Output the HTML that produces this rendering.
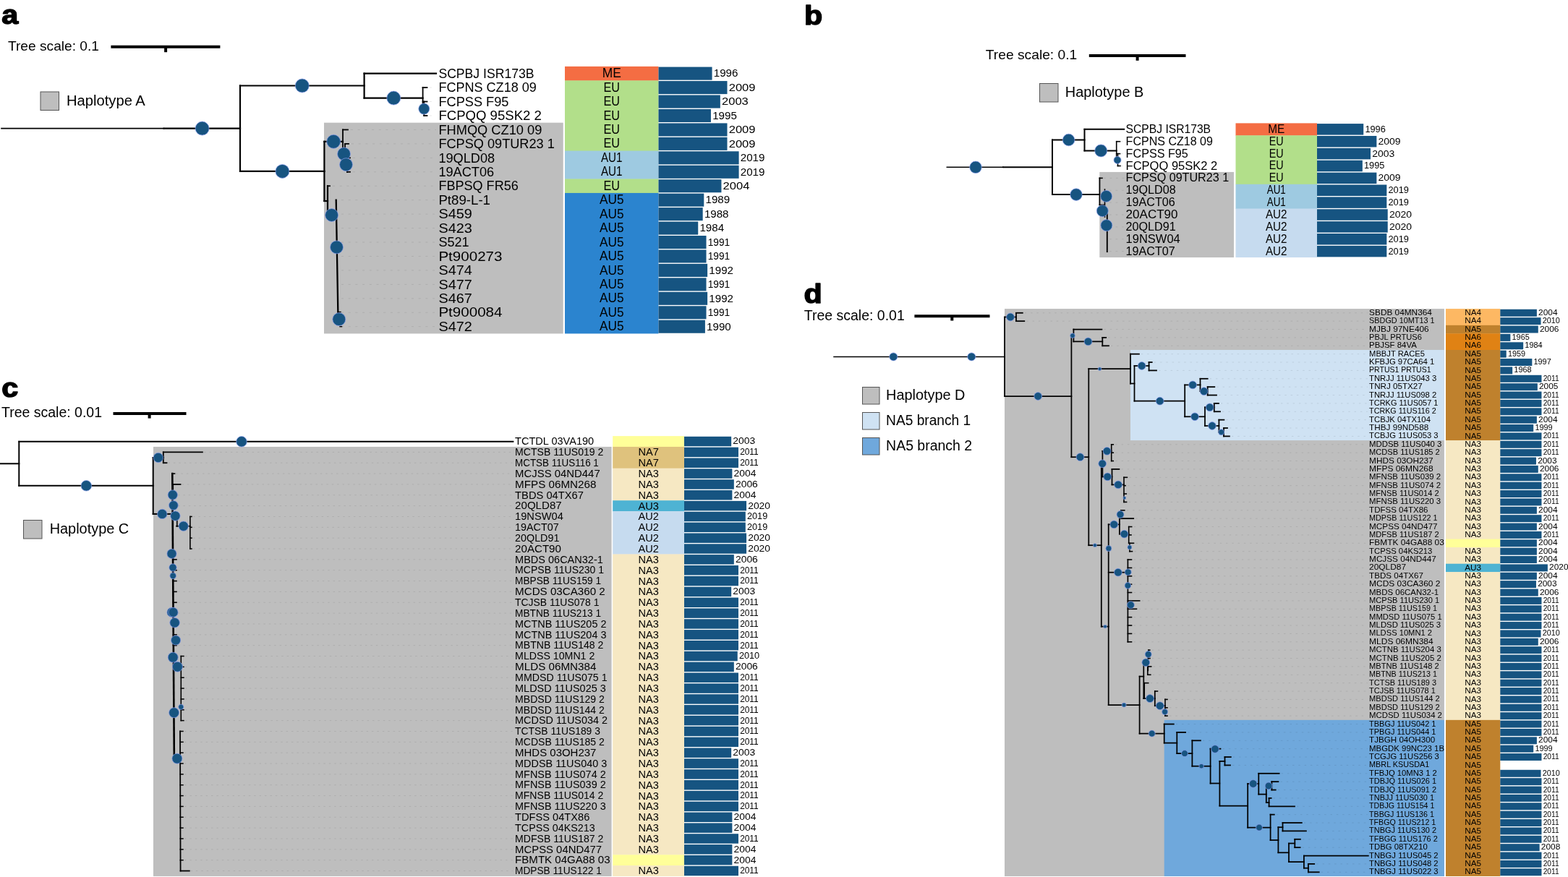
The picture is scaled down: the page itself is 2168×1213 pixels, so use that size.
<!DOCTYPE html>
<html><head><meta charset="utf-8"><title>Phylogenetic trees</title>
<style>
html,body{margin:0;padding:0;background:#fff;}
svg{display:block;}
svg text{font-family:"Liberation Sans", Arial, sans-serif;fill:#000;}
</style></head>
<body>
<svg width="2168" height="1213" viewBox="0 0 2168 1213">
<rect x="0" y="0" width="2168" height="1213" fill="#fff"/>
<rect x="448" y="169.7" width="330.7" height="291.75" fill="#bebebe" />
<rect x="781" y="91.9" width="129.5" height="19.85" fill="#f46d43" />
<rect x="781" y="111.35" width="129.5" height="97.65" fill="#b2df8a" />
<rect x="781" y="208.6" width="129.5" height="39.3" fill="#9ecae1" />
<rect x="781" y="247.5" width="129.5" height="19.85" fill="#b2df8a" />
<rect x="781" y="266.95" width="129.5" height="194.5" fill="#2b84cf" />
<rect x="910.5" y="92.6" width="74.06" height="18.05" fill="#165481" />
<rect x="910.5" y="112.05" width="94.99" height="18.05" fill="#165481" />
<rect x="910.5" y="131.5" width="85.33" height="18.05" fill="#165481" />
<rect x="910.5" y="150.95" width="72.45" height="18.05" fill="#165481" />
<rect x="910.5" y="170.4" width="94.99" height="18.05" fill="#165481" />
<rect x="910.5" y="189.85" width="94.99" height="18.05" fill="#165481" />
<rect x="910.5" y="209.3" width="111.09" height="18.05" fill="#165481" />
<rect x="910.5" y="228.75" width="111.09" height="18.05" fill="#165481" />
<rect x="910.5" y="248.2" width="86.94" height="18.05" fill="#165481" />
<rect x="910.5" y="267.65" width="62.79" height="18.05" fill="#165481" />
<rect x="910.5" y="287.1" width="61.18" height="18.05" fill="#165481" />
<rect x="910.5" y="306.55" width="54.74" height="18.05" fill="#165481" />
<rect x="910.5" y="326" width="66.01" height="18.05" fill="#165481" />
<rect x="910.5" y="345.45" width="66.01" height="18.05" fill="#165481" />
<rect x="910.5" y="364.9" width="67.62" height="18.05" fill="#165481" />
<rect x="910.5" y="384.35" width="66.01" height="18.05" fill="#165481" />
<rect x="910.5" y="403.8" width="67.62" height="18.05" fill="#165481" />
<rect x="910.5" y="423.25" width="66.01" height="18.05" fill="#165481" />
<rect x="910.5" y="442.7" width="64.4" height="18.05" fill="#165481" />
<text x="606.4" y="107.83" font-size="19" textLength="132.16" lengthAdjust="spacingAndGlyphs">SCPBJ ISR173B</text>
<text x="845.75" y="107.22" font-size="18" text-anchor="middle" textLength="26.09" lengthAdjust="spacingAndGlyphs">ME</text>
<text x="986.76" y="106.42" font-size="15.2" textLength="33.67" lengthAdjust="spacingAndGlyphs">1996</text>
<text x="606.4" y="127.28" font-size="19" textLength="135.41" lengthAdjust="spacingAndGlyphs">FCPNS CZ18 09</text>
<text x="845.75" y="126.67" font-size="18" text-anchor="middle" textLength="22.54" lengthAdjust="spacingAndGlyphs">EU</text>
<text x="1007.69" y="125.88" font-size="15.2" textLength="36.8" lengthAdjust="spacingAndGlyphs">2009</text>
<text x="606.4" y="146.72" font-size="19" textLength="97.02" lengthAdjust="spacingAndGlyphs">FCPSS F95</text>
<text x="845.75" y="146.12" font-size="18" text-anchor="middle" textLength="22.54" lengthAdjust="spacingAndGlyphs">EU</text>
<text x="998.03" y="145.33" font-size="15.2" textLength="36.8" lengthAdjust="spacingAndGlyphs">2003</text>
<text x="606.4" y="166.18" font-size="19" textLength="142.5" lengthAdjust="spacingAndGlyphs">FCPQQ 95SK2 2</text>
<text x="845.75" y="165.58" font-size="18" text-anchor="middle" textLength="22.54" lengthAdjust="spacingAndGlyphs">EU</text>
<text x="985.15" y="164.78" font-size="15.2" textLength="33.67" lengthAdjust="spacingAndGlyphs">1995</text>
<text x="606.4" y="185.62" font-size="19" textLength="142.98" lengthAdjust="spacingAndGlyphs">FHMQQ CZ10 09</text>
<text x="845.75" y="185.03" font-size="18" text-anchor="middle" textLength="22.54" lengthAdjust="spacingAndGlyphs">EU</text>
<text x="1007.69" y="184.23" font-size="15.2" textLength="36.8" lengthAdjust="spacingAndGlyphs">2009</text>
<text x="606.4" y="205.07" font-size="19" textLength="160.42" lengthAdjust="spacingAndGlyphs">FCPSQ 09TUR23 1</text>
<text x="845.75" y="204.47" font-size="18" text-anchor="middle" textLength="22.54" lengthAdjust="spacingAndGlyphs">EU</text>
<text x="1007.69" y="203.68" font-size="15.2" textLength="36.8" lengthAdjust="spacingAndGlyphs">2009</text>
<text x="606.4" y="224.52" font-size="19" textLength="77.69" lengthAdjust="spacingAndGlyphs">19QLD08</text>
<text x="845.75" y="223.92" font-size="18" text-anchor="middle" textLength="29.57" lengthAdjust="spacingAndGlyphs">AU1</text>
<text x="1023.79" y="223.12" font-size="15.2" textLength="33.67" lengthAdjust="spacingAndGlyphs">2019</text>
<text x="606.4" y="243.97" font-size="19" textLength="76.72" lengthAdjust="spacingAndGlyphs">19ACT06</text>
<text x="845.75" y="243.38" font-size="18" text-anchor="middle" textLength="29.57" lengthAdjust="spacingAndGlyphs">AU1</text>
<text x="1023.79" y="242.58" font-size="15.2" textLength="33.67" lengthAdjust="spacingAndGlyphs">2019</text>
<text x="606.4" y="263.43" font-size="19" textLength="110.38" lengthAdjust="spacingAndGlyphs">FBPSQ FR56</text>
<text x="845.75" y="262.83" font-size="18" text-anchor="middle" textLength="22.54" lengthAdjust="spacingAndGlyphs">EU</text>
<text x="999.64" y="262.03" font-size="15.2" textLength="36.8" lengthAdjust="spacingAndGlyphs">2004</text>
<text x="606.4" y="282.88" font-size="19" textLength="71.58" lengthAdjust="spacingAndGlyphs">Pt89-L-1</text>
<text x="845.75" y="282.28" font-size="18" text-anchor="middle" textLength="33.54" lengthAdjust="spacingAndGlyphs">AU5</text>
<text x="975.49" y="281.48" font-size="15.2" textLength="33.67" lengthAdjust="spacingAndGlyphs">1989</text>
<text x="606.4" y="302.32" font-size="19" textLength="46.38" lengthAdjust="spacingAndGlyphs">S459</text>
<text x="845.75" y="301.73" font-size="18" text-anchor="middle" textLength="33.54" lengthAdjust="spacingAndGlyphs">AU5</text>
<text x="973.88" y="300.93" font-size="15.2" textLength="33.67" lengthAdjust="spacingAndGlyphs">1988</text>
<text x="606.4" y="321.77" font-size="19" textLength="46.38" lengthAdjust="spacingAndGlyphs">S423</text>
<text x="845.75" y="321.18" font-size="18" text-anchor="middle" textLength="33.54" lengthAdjust="spacingAndGlyphs">AU5</text>
<text x="967.44" y="320.38" font-size="15.2" textLength="33.67" lengthAdjust="spacingAndGlyphs">1984</text>
<text x="606.4" y="341.22" font-size="19" textLength="42.18" lengthAdjust="spacingAndGlyphs">S521</text>
<text x="845.75" y="340.62" font-size="18" text-anchor="middle" textLength="33.54" lengthAdjust="spacingAndGlyphs">AU5</text>
<text x="978.71" y="339.82" font-size="15.2" textLength="30.54" lengthAdjust="spacingAndGlyphs">1991</text>
<text x="606.4" y="360.68" font-size="19" textLength="88.1" lengthAdjust="spacingAndGlyphs">Pt900273</text>
<text x="845.75" y="360.08" font-size="18" text-anchor="middle" textLength="33.54" lengthAdjust="spacingAndGlyphs">AU5</text>
<text x="978.71" y="359.28" font-size="15.2" textLength="30.54" lengthAdjust="spacingAndGlyphs">1991</text>
<text x="606.4" y="380.12" font-size="19" textLength="46.38" lengthAdjust="spacingAndGlyphs">S474</text>
<text x="845.75" y="379.52" font-size="18" text-anchor="middle" textLength="33.54" lengthAdjust="spacingAndGlyphs">AU5</text>
<text x="980.32" y="378.72" font-size="15.2" textLength="33.67" lengthAdjust="spacingAndGlyphs">1992</text>
<text x="606.4" y="399.57" font-size="19" textLength="46.38" lengthAdjust="spacingAndGlyphs">S477</text>
<text x="845.75" y="398.98" font-size="18" text-anchor="middle" textLength="33.54" lengthAdjust="spacingAndGlyphs">AU5</text>
<text x="978.71" y="398.18" font-size="15.2" textLength="30.54" lengthAdjust="spacingAndGlyphs">1991</text>
<text x="606.4" y="419.03" font-size="19" textLength="46.38" lengthAdjust="spacingAndGlyphs">S467</text>
<text x="845.75" y="418.43" font-size="18" text-anchor="middle" textLength="33.54" lengthAdjust="spacingAndGlyphs">AU5</text>
<text x="980.32" y="417.63" font-size="15.2" textLength="33.67" lengthAdjust="spacingAndGlyphs">1992</text>
<text x="606.4" y="438.47" font-size="19" textLength="88.1" lengthAdjust="spacingAndGlyphs">Pt900084</text>
<text x="845.75" y="437.88" font-size="18" text-anchor="middle" textLength="33.54" lengthAdjust="spacingAndGlyphs">AU5</text>
<text x="978.71" y="437.07" font-size="15.2" textLength="30.54" lengthAdjust="spacingAndGlyphs">1991</text>
<text x="606.4" y="457.93" font-size="19" textLength="46.38" lengthAdjust="spacingAndGlyphs">S472</text>
<text x="845.75" y="457.33" font-size="18" text-anchor="middle" textLength="33.54" lengthAdjust="spacingAndGlyphs">AU5</text>
<text x="977.1" y="456.53" font-size="15.2" textLength="33.67" lengthAdjust="spacingAndGlyphs">1990</text>
<g stroke="#000" stroke-opacity="0.085" stroke-width="1" stroke-dasharray="3,6.7" fill="none">
<line x1="594" y1="121.08" x2="603" y2="121.08"/>
<line x1="594" y1="140.53" x2="603" y2="140.53"/>
<line x1="594" y1="159.98" x2="603" y2="159.98"/>
<line x1="485" y1="179.43" x2="603" y2="179.43"/>
<line x1="486" y1="198.88" x2="603" y2="198.88"/>
<line x1="488" y1="218.32" x2="603" y2="218.32"/>
<line x1="488" y1="237.78" x2="603" y2="237.78"/>
<line x1="460" y1="257.23" x2="603" y2="257.23"/>
<line x1="472" y1="276.68" x2="603" y2="276.68"/>
<line x1="472" y1="296.12" x2="603" y2="296.12"/>
<line x1="472" y1="315.57" x2="603" y2="315.57"/>
<line x1="472" y1="335.02" x2="603" y2="335.02"/>
<line x1="472" y1="354.48" x2="603" y2="354.48"/>
<line x1="472" y1="373.92" x2="603" y2="373.92"/>
<line x1="472" y1="393.38" x2="603" y2="393.38"/>
<line x1="472" y1="412.83" x2="603" y2="412.83"/>
<line x1="472" y1="432.27" x2="603" y2="432.27"/>
<line x1="472" y1="451.73" x2="603" y2="451.73"/>
</g>
<g stroke="#000000" stroke-linecap="square" fill="none">
<line x1="2" y1="177.6" x2="226.6" y2="177.6" stroke-width="1.6"/>
<line x1="226.6" y1="177.6" x2="332" y2="177.6" stroke-width="2.2"/>
<line x1="332" y1="118.5" x2="332" y2="236.9" stroke-width="2.2"/>
<line x1="332" y1="118.5" x2="503.6" y2="118.5" stroke-width="2.2"/>
<line x1="503.6" y1="101.62" x2="503.6" y2="135.6" stroke-width="2.2"/>
<line x1="503.6" y1="101.62" x2="603" y2="101.62" stroke-width="2.2"/>
<line x1="503.6" y1="135.6" x2="584.6" y2="135.6" stroke-width="2.2"/>
<line x1="584.6" y1="121.08" x2="584.6" y2="150.3" stroke-width="1.8"/>
<line x1="584.6" y1="121.08" x2="590.5" y2="121.08" stroke-width="1.8"/>
<line x1="586.3" y1="140.53" x2="586.3" y2="159.98" stroke-width="1.8"/>
<line x1="584.6" y1="140.53" x2="590.5" y2="140.53" stroke-width="1.8"/>
<line x1="586.3" y1="159.98" x2="590.5" y2="159.98" stroke-width="1.8"/>
<line x1="332" y1="236.9" x2="448.5" y2="236.9" stroke-width="2.2"/>
<line x1="448.4" y1="195.8" x2="448.4" y2="278" stroke-width="2.2"/>
<line x1="448.4" y1="195.8" x2="474" y2="195.8" stroke-width="2.2"/>
<line x1="474" y1="179.43" x2="474" y2="212.9" stroke-width="1.8"/>
<line x1="474" y1="179.43" x2="481" y2="179.43" stroke-width="1.8"/>
<line x1="477" y1="198.88" x2="477" y2="228" stroke-width="1.8"/>
<line x1="477" y1="198.88" x2="482" y2="198.88" stroke-width="1.8"/>
<line x1="480" y1="218.32" x2="480" y2="237.78" stroke-width="1.8"/>
<line x1="480" y1="218.32" x2="484" y2="218.32" stroke-width="1.8"/>
<line x1="480" y1="237.78" x2="484" y2="237.78" stroke-width="1.8"/>
<line x1="448.4" y1="278" x2="453" y2="278" stroke-width="2.2"/>
<line x1="453" y1="257.23" x2="453" y2="297.5" stroke-width="2.2"/>
<line x1="453" y1="257.23" x2="456" y2="257.23" stroke-width="1.8"/>
<line x1="453" y1="297.5" x2="465" y2="297.5" stroke-width="2.2"/>
<line x1="464.7" y1="276.68" x2="467.5" y2="441" stroke-width="2.3"/>
<line x1="467.5" y1="431.5" x2="471" y2="431.5" stroke-width="1.4"/>
<line x1="470" y1="451.73" x2="472.5" y2="451.73" stroke-width="1.4"/>
</g>
<g fill="#175480" stroke="#8d9ef0" stroke-width="0.8" stroke-opacity="0.85">
<circle cx="279.6" cy="177.6" r="9.5"/>
<circle cx="417.8" cy="118.5" r="9.5"/>
<circle cx="544.3" cy="135.6" r="9.5"/>
<circle cx="586.3" cy="150.6" r="7.5"/>
<circle cx="390.4" cy="236.9" r="9.5"/>
<circle cx="461.2" cy="195.8" r="9.5"/>
<circle cx="475.5" cy="212.9" r="9"/>
<circle cx="478.5" cy="227.7" r="9"/>
<circle cx="458.6" cy="297.5" r="9"/>
<circle cx="465.5" cy="341.9" r="9"/>
<circle cx="468.8" cy="441.6" r="9"/>
</g>
<text transform="translate(2.2,33.4) scale(1.1,1)" x="0" y="0" font-size="37.5" font-weight="bold" fill="#000" stroke="#000" stroke-width="1.5" stroke-linejoin="round">a</text>
<text x="11" y="69.7" font-size="19" textLength="126" lengthAdjust="spacingAndGlyphs">Tree scale: 0.1</text>
<line x1="153.4" y1="64.8" x2="304.4" y2="64.8" stroke="#000" stroke-width="4"/>
<line x1="229.1" y1="64.8" x2="229.1" y2="72.2" stroke="#000" stroke-width="4"/>
<rect x="56" y="127" width="25.5" height="25.5" fill="#bebebe" stroke="#555" stroke-width="1"/>
<text x="92" y="145.96" font-size="19.5" textLength="108.8" lengthAdjust="spacingAndGlyphs">Haplotype A</text>
<rect x="1520.3" y="237.92" width="185.7" height="118.16" fill="#bebebe" />
<rect x="1708.5" y="170.4" width="112.5" height="17.28" fill="#f46d43" />
<rect x="1708.5" y="187.28" width="112.5" height="67.92" fill="#b2df8a" />
<rect x="1708.5" y="254.8" width="112.5" height="34.16" fill="#9ecae1" />
<rect x="1708.5" y="288.56" width="112.5" height="67.52" fill="#c6dbef" />
<rect x="1821" y="171.1" width="64.22" height="15.48" fill="#165481" />
<rect x="1821" y="187.98" width="82.36" height="15.48" fill="#165481" />
<rect x="1821" y="204.86" width="73.99" height="15.48" fill="#165481" />
<rect x="1821" y="221.74" width="62.82" height="15.48" fill="#165481" />
<rect x="1821" y="238.62" width="82.36" height="15.48" fill="#165481" />
<rect x="1821" y="255.5" width="96.32" height="15.48" fill="#165481" />
<rect x="1821" y="272.38" width="96.32" height="15.48" fill="#165481" />
<rect x="1821" y="289.26" width="97.72" height="15.48" fill="#165481" />
<rect x="1821" y="306.14" width="97.72" height="15.48" fill="#165481" />
<rect x="1821" y="323.02" width="96.32" height="15.48" fill="#165481" />
<rect x="1821" y="339.9" width="96.32" height="15.48" fill="#165481" />
<text x="1556.6" y="183.94" font-size="16.4" textLength="117.48" lengthAdjust="spacingAndGlyphs">SCPBJ ISR173B</text>
<text x="1764.75" y="183.74" font-size="15.7" text-anchor="middle" textLength="23.02" lengthAdjust="spacingAndGlyphs">ME</text>
<text x="1887.42" y="182.74" font-size="12.9" textLength="28.37" lengthAdjust="spacingAndGlyphs">1996</text>
<text x="1556.6" y="200.82" font-size="16.4" textLength="120.37" lengthAdjust="spacingAndGlyphs">FCPNS CZ18 09</text>
<text x="1764.75" y="200.62" font-size="15.7" text-anchor="middle" textLength="19.89" lengthAdjust="spacingAndGlyphs">EU</text>
<text x="1905.56" y="199.62" font-size="12.9" textLength="31" lengthAdjust="spacingAndGlyphs">2009</text>
<text x="1556.6" y="217.7" font-size="16.4" textLength="86.24" lengthAdjust="spacingAndGlyphs">FCPSS F95</text>
<text x="1764.75" y="217.5" font-size="15.7" text-anchor="middle" textLength="19.89" lengthAdjust="spacingAndGlyphs">EU</text>
<text x="1897.19" y="216.5" font-size="12.9" textLength="31" lengthAdjust="spacingAndGlyphs">2003</text>
<text x="1556.6" y="234.58" font-size="16.4" textLength="126.66" lengthAdjust="spacingAndGlyphs">FCPQQ 95SK2 2</text>
<text x="1764.75" y="234.38" font-size="15.7" text-anchor="middle" textLength="19.89" lengthAdjust="spacingAndGlyphs">EU</text>
<text x="1886.02" y="233.38" font-size="12.9" textLength="28.37" lengthAdjust="spacingAndGlyphs">1995</text>
<text x="1556.6" y="251.46" font-size="16.4" textLength="142.6" lengthAdjust="spacingAndGlyphs">FCPSQ 09TUR23 1</text>
<text x="1764.75" y="251.26" font-size="15.7" text-anchor="middle" textLength="19.89" lengthAdjust="spacingAndGlyphs">EU</text>
<text x="1905.56" y="250.26" font-size="12.9" textLength="31" lengthAdjust="spacingAndGlyphs">2009</text>
<text x="1556.6" y="268.34" font-size="16.4" textLength="69.06" lengthAdjust="spacingAndGlyphs">19QLD08</text>
<text x="1764.75" y="268.14" font-size="15.7" text-anchor="middle" textLength="26.09" lengthAdjust="spacingAndGlyphs">AU1</text>
<text x="1919.52" y="267.14" font-size="12.9" textLength="28.37" lengthAdjust="spacingAndGlyphs">2019</text>
<text x="1556.6" y="285.22" font-size="16.4" textLength="68.2" lengthAdjust="spacingAndGlyphs">19ACT06</text>
<text x="1764.75" y="285.02" font-size="15.7" text-anchor="middle" textLength="26.09" lengthAdjust="spacingAndGlyphs">AU1</text>
<text x="1919.52" y="284.02" font-size="12.9" textLength="28.37" lengthAdjust="spacingAndGlyphs">2019</text>
<text x="1556.6" y="302.1" font-size="16.4" textLength="71.93" lengthAdjust="spacingAndGlyphs">20ACT90</text>
<text x="1764.75" y="301.9" font-size="15.7" text-anchor="middle" textLength="29.59" lengthAdjust="spacingAndGlyphs">AU2</text>
<text x="1920.92" y="300.9" font-size="12.9" textLength="31" lengthAdjust="spacingAndGlyphs">2020</text>
<text x="1556.6" y="318.98" font-size="16.4" textLength="69.06" lengthAdjust="spacingAndGlyphs">20QLD91</text>
<text x="1764.75" y="318.78" font-size="15.7" text-anchor="middle" textLength="29.59" lengthAdjust="spacingAndGlyphs">AU2</text>
<text x="1920.92" y="317.78" font-size="12.9" textLength="31" lengthAdjust="spacingAndGlyphs">2020</text>
<text x="1556.6" y="335.86" font-size="16.4" textLength="75.15" lengthAdjust="spacingAndGlyphs">19NSW04</text>
<text x="1764.75" y="335.66" font-size="15.7" text-anchor="middle" textLength="29.59" lengthAdjust="spacingAndGlyphs">AU2</text>
<text x="1919.52" y="334.66" font-size="12.9" textLength="28.37" lengthAdjust="spacingAndGlyphs">2019</text>
<text x="1556.6" y="352.74" font-size="16.4" textLength="68.2" lengthAdjust="spacingAndGlyphs">19ACT07</text>
<text x="1764.75" y="352.54" font-size="15.7" text-anchor="middle" textLength="29.59" lengthAdjust="spacingAndGlyphs">AU2</text>
<text x="1919.52" y="351.54" font-size="12.9" textLength="28.37" lengthAdjust="spacingAndGlyphs">2019</text>
<g stroke="#000" stroke-opacity="0.085" stroke-width="1" stroke-dasharray="2.8,5.7" fill="none">
<line x1="1550" y1="195.72" x2="1555" y2="195.72"/>
<line x1="1550" y1="212.6" x2="1555" y2="212.6"/>
<line x1="1550" y1="229.48" x2="1555" y2="229.48"/>
<line x1="1526" y1="246.36" x2="1555" y2="246.36"/>
<line x1="1534" y1="263.24" x2="1555" y2="263.24"/>
<line x1="1534" y1="280.12" x2="1555" y2="280.12"/>
<line x1="1534" y1="297" x2="1555" y2="297"/>
<line x1="1534" y1="313.88" x2="1555" y2="313.88"/>
<line x1="1534" y1="330.76" x2="1555" y2="330.76"/>
<line x1="1534" y1="347.64" x2="1555" y2="347.64"/>
</g>
<g stroke="#000000" stroke-linecap="square" fill="none">
<line x1="1309.3" y1="231.3" x2="1387" y2="231.3" stroke-width="1.5"/>
<line x1="1387" y1="231.3" x2="1455" y2="231.3" stroke-width="2"/>
<line x1="1455" y1="193.5" x2="1455" y2="269.1" stroke-width="2"/>
<line x1="1455" y1="193.5" x2="1499.5" y2="193.5" stroke-width="2"/>
<line x1="1499.5" y1="178.84" x2="1499.5" y2="208.4" stroke-width="2"/>
<line x1="1499.5" y1="178.84" x2="1554.2" y2="178.84" stroke-width="2"/>
<line x1="1499.5" y1="208.4" x2="1543.7" y2="208.4" stroke-width="2"/>
<line x1="1543.7" y1="195.72" x2="1543.7" y2="221.4" stroke-width="1.6"/>
<line x1="1543.7" y1="195.72" x2="1548.5" y2="195.72" stroke-width="1.6"/>
<line x1="1545.5" y1="212.6" x2="1545.5" y2="229.48" stroke-width="1.6"/>
<line x1="1543.7" y1="212.6" x2="1548.5" y2="212.6" stroke-width="1.6"/>
<line x1="1545.5" y1="229.48" x2="1549" y2="229.48" stroke-width="1.6"/>
<line x1="1455" y1="269.1" x2="1520.3" y2="269.1" stroke-width="2"/>
<line x1="1520.4" y1="246.36" x2="1520.4" y2="283.4" stroke-width="1.8"/>
<line x1="1520.4" y1="246.36" x2="1524" y2="246.36" stroke-width="1.6"/>
<line x1="1520.4" y1="283.4" x2="1527" y2="283.4" stroke-width="1.6"/>
<line x1="1527.5" y1="262" x2="1527.5" y2="300" stroke-width="1.6"/>
<line x1="1530.8" y1="296" x2="1530.8" y2="348.14" stroke-width="1.9"/>
</g>
<g fill="#175480" stroke="#8d9ef0" stroke-width="0.8" stroke-opacity="0.85">
<circle cx="1349" cy="231.3" r="8.3"/>
<circle cx="1477.6" cy="193.5" r="8.3"/>
<circle cx="1522.2" cy="208.4" r="8.5"/>
<circle cx="1545" cy="221.4" r="5"/>
<circle cx="1488" cy="269.1" r="8.3"/>
<circle cx="1529.6" cy="271.4" r="8"/>
<circle cx="1524.3" cy="291.7" r="8"/>
<circle cx="1529.9" cy="311.7" r="8"/>
</g>
<text transform="translate(1112,33.6) scale(1.1,1)" x="0" y="0" font-size="37.5" font-weight="bold" fill="#000" stroke="#000" stroke-width="1.5" stroke-linejoin="round">b</text>
<text x="1362.8" y="82.2" font-size="19" textLength="126.5" lengthAdjust="spacingAndGlyphs">Tree scale: 0.1</text>
<line x1="1505.8" y1="77" x2="1639.5" y2="77" stroke="#000" stroke-width="4"/>
<line x1="1572.6" y1="77" x2="1572.6" y2="83.8" stroke="#000" stroke-width="4"/>
<rect x="1437.5" y="115.5" width="25.5" height="25.5" fill="#bebebe" stroke="#555" stroke-width="1"/>
<text x="1472.8" y="134.46" font-size="19.5" textLength="108.5" lengthAdjust="spacingAndGlyphs">Haplotype B</text>
<rect x="212" y="617.95" width="633.6" height="594" fill="#bebebe" />
<rect x="847.2" y="603.1" width="98.8" height="15.25" fill="#ffff99" />
<rect x="847.2" y="617.95" width="98.8" height="30.1" fill="#dfc27d" />
<rect x="847.2" y="647.65" width="98.8" height="44.95" fill="#f6e8c3" />
<rect x="847.2" y="692.2" width="98.8" height="15.25" fill="#4eb3d3" />
<rect x="847.2" y="707.05" width="98.8" height="59.8" fill="#c6dbef" />
<rect x="847.2" y="766.45" width="98.8" height="416.2" fill="#f6e8c3" />
<rect x="847.2" y="1182.25" width="98.8" height="15.25" fill="#ffff99" />
<rect x="847.2" y="1197.1" width="98.8" height="14.85" fill="#f6e8c3" />
<rect x="946" y="603.8" width="65.14" height="13.45" fill="#165481" />
<rect x="946" y="618.65" width="74.97" height="13.45" fill="#165481" />
<rect x="946" y="633.5" width="74.97" height="13.45" fill="#165481" />
<rect x="946" y="648.35" width="66.37" height="13.45" fill="#165481" />
<rect x="946" y="663.2" width="68.82" height="13.45" fill="#165481" />
<rect x="946" y="678.05" width="66.37" height="13.45" fill="#165481" />
<rect x="946" y="692.9" width="86.03" height="13.45" fill="#165481" />
<rect x="946" y="707.75" width="84.8" height="13.45" fill="#165481" />
<rect x="946" y="722.6" width="84.8" height="13.45" fill="#165481" />
<rect x="946" y="737.45" width="86.03" height="13.45" fill="#165481" />
<rect x="946" y="752.3" width="86.03" height="13.45" fill="#165481" />
<rect x="946" y="767.15" width="68.82" height="13.45" fill="#165481" />
<rect x="946" y="782" width="74.97" height="13.45" fill="#165481" />
<rect x="946" y="796.85" width="74.97" height="13.45" fill="#165481" />
<rect x="946" y="811.7" width="65.14" height="13.45" fill="#165481" />
<rect x="946" y="826.55" width="74.97" height="13.45" fill="#165481" />
<rect x="946" y="841.4" width="74.97" height="13.45" fill="#165481" />
<rect x="946" y="856.25" width="74.97" height="13.45" fill="#165481" />
<rect x="946" y="871.1" width="74.97" height="13.45" fill="#165481" />
<rect x="946" y="885.95" width="74.97" height="13.45" fill="#165481" />
<rect x="946" y="900.8" width="73.74" height="13.45" fill="#165481" />
<rect x="946" y="915.65" width="68.82" height="13.45" fill="#165481" />
<rect x="946" y="930.5" width="74.97" height="13.45" fill="#165481" />
<rect x="946" y="945.35" width="74.97" height="13.45" fill="#165481" />
<rect x="946" y="960.2" width="74.97" height="13.45" fill="#165481" />
<rect x="946" y="975.05" width="74.97" height="13.45" fill="#165481" />
<rect x="946" y="989.9" width="74.97" height="13.45" fill="#165481" />
<rect x="946" y="1004.75" width="74.97" height="13.45" fill="#165481" />
<rect x="946" y="1019.6" width="74.97" height="13.45" fill="#165481" />
<rect x="946" y="1034.45" width="65.14" height="13.45" fill="#165481" />
<rect x="946" y="1049.3" width="74.97" height="13.45" fill="#165481" />
<rect x="946" y="1064.15" width="74.97" height="13.45" fill="#165481" />
<rect x="946" y="1079" width="74.97" height="13.45" fill="#165481" />
<rect x="946" y="1093.85" width="74.97" height="13.45" fill="#165481" />
<rect x="946" y="1108.7" width="74.97" height="13.45" fill="#165481" />
<rect x="946" y="1123.55" width="66.37" height="13.45" fill="#165481" />
<rect x="946" y="1138.4" width="66.37" height="13.45" fill="#165481" />
<rect x="946" y="1153.25" width="74.97" height="13.45" fill="#165481" />
<rect x="946" y="1168.1" width="66.37" height="13.45" fill="#165481" />
<rect x="946" y="1182.95" width="66.37" height="13.45" fill="#165481" />
<rect x="946" y="1197.8" width="74.97" height="13.45" fill="#165481" />
<text x="712.1" y="615.27" font-size="14.2" textLength="109.06" lengthAdjust="spacingAndGlyphs">TCTDL 03VA190</text>
<text x="1013.34" y="614.42" font-size="12.9" textLength="30.8" lengthAdjust="spacingAndGlyphs">2003</text>
<text x="712.1" y="630.12" font-size="14.2" textLength="122.29" lengthAdjust="spacingAndGlyphs">MCTSB 11US019 2</text>
<text x="896.6" y="630.33" font-size="14.4" text-anchor="middle" textLength="28.41" lengthAdjust="spacingAndGlyphs">NA7</text>
<text x="1023.17" y="629.27" font-size="12.9" textLength="25.56" lengthAdjust="spacingAndGlyphs">2011</text>
<text x="712.1" y="644.98" font-size="14.2" textLength="115.66" lengthAdjust="spacingAndGlyphs">MCTSB 11US116 1</text>
<text x="896.6" y="645.18" font-size="14.4" text-anchor="middle" textLength="28.41" lengthAdjust="spacingAndGlyphs">NA7</text>
<text x="1023.17" y="644.12" font-size="12.9" textLength="25.56" lengthAdjust="spacingAndGlyphs">2011</text>
<text x="712.1" y="659.83" font-size="14.2" textLength="117.59" lengthAdjust="spacingAndGlyphs">MCJSS 04ND447</text>
<text x="896.6" y="660.03" font-size="14.4" text-anchor="middle" textLength="28.41" lengthAdjust="spacingAndGlyphs">NA3</text>
<text x="1014.57" y="658.98" font-size="12.9" textLength="30.8" lengthAdjust="spacingAndGlyphs">2004</text>
<text x="712.1" y="674.68" font-size="14.2" textLength="112.27" lengthAdjust="spacingAndGlyphs">MFPS 06MN268</text>
<text x="896.6" y="674.88" font-size="14.4" text-anchor="middle" textLength="28.41" lengthAdjust="spacingAndGlyphs">NA3</text>
<text x="1017.02" y="673.83" font-size="12.9" textLength="30.8" lengthAdjust="spacingAndGlyphs">2006</text>
<text x="712.1" y="689.52" font-size="14.2" textLength="94.9" lengthAdjust="spacingAndGlyphs">TBDS 04TX67</text>
<text x="896.6" y="689.73" font-size="14.4" text-anchor="middle" textLength="28.41" lengthAdjust="spacingAndGlyphs">NA3</text>
<text x="1014.57" y="688.67" font-size="12.9" textLength="30.8" lengthAdjust="spacingAndGlyphs">2004</text>
<text x="712.1" y="704.38" font-size="14.2" textLength="64.6" lengthAdjust="spacingAndGlyphs">20QLD87</text>
<text x="896.6" y="704.58" font-size="14.4" text-anchor="middle" textLength="28.41" lengthAdjust="spacingAndGlyphs">AU3</text>
<text x="1034.23" y="703.52" font-size="12.9" textLength="30.8" lengthAdjust="spacingAndGlyphs">2020</text>
<text x="712.1" y="719.23" font-size="14.2" textLength="66.7" lengthAdjust="spacingAndGlyphs">19NSW04</text>
<text x="896.6" y="719.43" font-size="14.4" text-anchor="middle" textLength="28.41" lengthAdjust="spacingAndGlyphs">AU2</text>
<text x="1033" y="718.38" font-size="12.9" textLength="28.18" lengthAdjust="spacingAndGlyphs">2019</text>
<text x="712.1" y="734.08" font-size="14.2" textLength="60.53" lengthAdjust="spacingAndGlyphs">19ACT07</text>
<text x="896.6" y="734.28" font-size="14.4" text-anchor="middle" textLength="28.41" lengthAdjust="spacingAndGlyphs">AU2</text>
<text x="1033" y="733.23" font-size="12.9" textLength="28.18" lengthAdjust="spacingAndGlyphs">2019</text>
<text x="712.1" y="748.92" font-size="14.2" textLength="61.29" lengthAdjust="spacingAndGlyphs">20QLD91</text>
<text x="896.6" y="749.12" font-size="14.4" text-anchor="middle" textLength="28.41" lengthAdjust="spacingAndGlyphs">AU2</text>
<text x="1034.23" y="748.07" font-size="12.9" textLength="30.8" lengthAdjust="spacingAndGlyphs">2020</text>
<text x="712.1" y="763.77" font-size="14.2" textLength="63.84" lengthAdjust="spacingAndGlyphs">20ACT90</text>
<text x="896.6" y="763.98" font-size="14.4" text-anchor="middle" textLength="28.41" lengthAdjust="spacingAndGlyphs">AU2</text>
<text x="1034.23" y="762.92" font-size="12.9" textLength="30.8" lengthAdjust="spacingAndGlyphs">2020</text>
<text x="712.1" y="778.62" font-size="14.2" textLength="121.69" lengthAdjust="spacingAndGlyphs">MBDS 06CAN32-1</text>
<text x="896.6" y="778.83" font-size="14.4" text-anchor="middle" textLength="28.41" lengthAdjust="spacingAndGlyphs">NA3</text>
<text x="1017.02" y="777.77" font-size="12.9" textLength="30.8" lengthAdjust="spacingAndGlyphs">2006</text>
<text x="712.1" y="793.48" font-size="14.2" textLength="123.05" lengthAdjust="spacingAndGlyphs">MCPSB 11US230 1</text>
<text x="896.6" y="793.68" font-size="14.4" text-anchor="middle" textLength="28.41" lengthAdjust="spacingAndGlyphs">NA3</text>
<text x="1023.17" y="792.62" font-size="12.9" textLength="25.56" lengthAdjust="spacingAndGlyphs">2011</text>
<text x="712.1" y="808.33" font-size="14.2" textLength="118.99" lengthAdjust="spacingAndGlyphs">MBPSB 11US159 1</text>
<text x="896.6" y="808.53" font-size="14.4" text-anchor="middle" textLength="28.41" lengthAdjust="spacingAndGlyphs">NA3</text>
<text x="1023.17" y="807.48" font-size="12.9" textLength="25.56" lengthAdjust="spacingAndGlyphs">2011</text>
<text x="712.1" y="823.17" font-size="14.2" textLength="124.7" lengthAdjust="spacingAndGlyphs">MCDS 03CA360 2</text>
<text x="896.6" y="823.38" font-size="14.4" text-anchor="middle" textLength="28.41" lengthAdjust="spacingAndGlyphs">NA3</text>
<text x="1013.34" y="822.32" font-size="12.9" textLength="30.8" lengthAdjust="spacingAndGlyphs">2003</text>
<text x="712.1" y="838.02" font-size="14.2" textLength="116.31" lengthAdjust="spacingAndGlyphs">TCJSB 11US078 1</text>
<text x="896.6" y="838.23" font-size="14.4" text-anchor="middle" textLength="28.41" lengthAdjust="spacingAndGlyphs">NA3</text>
<text x="1023.17" y="837.17" font-size="12.9" textLength="25.56" lengthAdjust="spacingAndGlyphs">2011</text>
<text x="712.1" y="852.88" font-size="14.2" textLength="118.97" lengthAdjust="spacingAndGlyphs">MBTNB 11US213 1</text>
<text x="896.6" y="853.08" font-size="14.4" text-anchor="middle" textLength="28.41" lengthAdjust="spacingAndGlyphs">NA3</text>
<text x="1023.17" y="852.02" font-size="12.9" textLength="25.56" lengthAdjust="spacingAndGlyphs">2011</text>
<text x="712.1" y="867.73" font-size="14.2" textLength="126.35" lengthAdjust="spacingAndGlyphs">MCTNB 11US205 2</text>
<text x="896.6" y="867.93" font-size="14.4" text-anchor="middle" textLength="28.41" lengthAdjust="spacingAndGlyphs">NA3</text>
<text x="1023.17" y="866.88" font-size="12.9" textLength="25.56" lengthAdjust="spacingAndGlyphs">2011</text>
<text x="712.1" y="882.58" font-size="14.2" textLength="126.35" lengthAdjust="spacingAndGlyphs">MCTNB 11US204 3</text>
<text x="896.6" y="882.78" font-size="14.4" text-anchor="middle" textLength="28.41" lengthAdjust="spacingAndGlyphs">NA3</text>
<text x="1023.17" y="881.73" font-size="12.9" textLength="25.56" lengthAdjust="spacingAndGlyphs">2011</text>
<text x="712.1" y="897.42" font-size="14.2" textLength="122.29" lengthAdjust="spacingAndGlyphs">MBTNB 11US148 2</text>
<text x="896.6" y="897.62" font-size="14.4" text-anchor="middle" textLength="28.41" lengthAdjust="spacingAndGlyphs">NA3</text>
<text x="1023.17" y="896.57" font-size="12.9" textLength="25.56" lengthAdjust="spacingAndGlyphs">2011</text>
<text x="712.1" y="912.28" font-size="14.2" textLength="110.21" lengthAdjust="spacingAndGlyphs">MLDSS 10MN1 2</text>
<text x="896.6" y="912.48" font-size="14.4" text-anchor="middle" textLength="28.41" lengthAdjust="spacingAndGlyphs">NA3</text>
<text x="1021.94" y="911.43" font-size="12.9" textLength="28.18" lengthAdjust="spacingAndGlyphs">2010</text>
<text x="712.1" y="927.12" font-size="14.2" textLength="112.28" lengthAdjust="spacingAndGlyphs">MLDS 06MN384</text>
<text x="896.6" y="927.33" font-size="14.4" text-anchor="middle" textLength="28.41" lengthAdjust="spacingAndGlyphs">NA3</text>
<text x="1017.02" y="926.27" font-size="12.9" textLength="30.8" lengthAdjust="spacingAndGlyphs">2006</text>
<text x="712.1" y="941.98" font-size="14.2" textLength="127.51" lengthAdjust="spacingAndGlyphs">MMDSD 11US075 1</text>
<text x="896.6" y="942.18" font-size="14.4" text-anchor="middle" textLength="28.41" lengthAdjust="spacingAndGlyphs">NA3</text>
<text x="1023.17" y="941.12" font-size="12.9" textLength="25.56" lengthAdjust="spacingAndGlyphs">2011</text>
<text x="712.1" y="956.83" font-size="14.2" textLength="125.61" lengthAdjust="spacingAndGlyphs">MLDSD 11US025 3</text>
<text x="896.6" y="957.03" font-size="14.4" text-anchor="middle" textLength="28.41" lengthAdjust="spacingAndGlyphs">NA3</text>
<text x="1023.17" y="955.98" font-size="12.9" textLength="25.56" lengthAdjust="spacingAndGlyphs">2011</text>
<text x="712.1" y="971.67" font-size="14.2" textLength="123.8" lengthAdjust="spacingAndGlyphs">MBDSD 11US129 2</text>
<text x="896.6" y="971.88" font-size="14.4" text-anchor="middle" textLength="28.41" lengthAdjust="spacingAndGlyphs">NA3</text>
<text x="1023.17" y="970.82" font-size="12.9" textLength="25.56" lengthAdjust="spacingAndGlyphs">2011</text>
<text x="712.1" y="986.53" font-size="14.2" textLength="123.8" lengthAdjust="spacingAndGlyphs">MBDSD 11US144 2</text>
<text x="896.6" y="986.73" font-size="14.4" text-anchor="middle" textLength="28.41" lengthAdjust="spacingAndGlyphs">NA3</text>
<text x="1023.17" y="985.68" font-size="12.9" textLength="25.56" lengthAdjust="spacingAndGlyphs">2011</text>
<text x="712.1" y="1001.38" font-size="14.2" textLength="127.86" lengthAdjust="spacingAndGlyphs">MCDSD 11US034 2</text>
<text x="896.6" y="1001.58" font-size="14.4" text-anchor="middle" textLength="28.41" lengthAdjust="spacingAndGlyphs">NA3</text>
<text x="1023.17" y="1000.52" font-size="12.9" textLength="25.56" lengthAdjust="spacingAndGlyphs">2011</text>
<text x="712.1" y="1016.23" font-size="14.2" textLength="117.82" lengthAdjust="spacingAndGlyphs">TCTSB 11US189 3</text>
<text x="896.6" y="1016.43" font-size="14.4" text-anchor="middle" textLength="28.41" lengthAdjust="spacingAndGlyphs">NA3</text>
<text x="1023.17" y="1015.38" font-size="12.9" textLength="25.56" lengthAdjust="spacingAndGlyphs">2011</text>
<text x="712.1" y="1031.08" font-size="14.2" textLength="123.8" lengthAdjust="spacingAndGlyphs">MCDSB 11US185 2</text>
<text x="896.6" y="1031.28" font-size="14.4" text-anchor="middle" textLength="28.41" lengthAdjust="spacingAndGlyphs">NA3</text>
<text x="1023.17" y="1030.23" font-size="12.9" textLength="25.56" lengthAdjust="spacingAndGlyphs">2011</text>
<text x="712.1" y="1045.92" font-size="14.2" textLength="112.32" lengthAdjust="spacingAndGlyphs">MHDS 03OH237</text>
<text x="896.6" y="1046.12" font-size="14.4" text-anchor="middle" textLength="28.41" lengthAdjust="spacingAndGlyphs">NA3</text>
<text x="1013.34" y="1045.08" font-size="12.9" textLength="30.8" lengthAdjust="spacingAndGlyphs">2003</text>
<text x="712.1" y="1060.78" font-size="14.2" textLength="127.11" lengthAdjust="spacingAndGlyphs">MDDSB 11US040 3</text>
<text x="896.6" y="1060.98" font-size="14.4" text-anchor="middle" textLength="28.41" lengthAdjust="spacingAndGlyphs">NA3</text>
<text x="1023.17" y="1059.93" font-size="12.9" textLength="25.56" lengthAdjust="spacingAndGlyphs">2011</text>
<text x="712.1" y="1075.62" font-size="14.2" textLength="125.6" lengthAdjust="spacingAndGlyphs">MFNSB 11US074 2</text>
<text x="896.6" y="1075.83" font-size="14.4" text-anchor="middle" textLength="28.41" lengthAdjust="spacingAndGlyphs">NA3</text>
<text x="1023.17" y="1074.78" font-size="12.9" textLength="25.56" lengthAdjust="spacingAndGlyphs">2011</text>
<text x="712.1" y="1090.47" font-size="14.2" textLength="125.6" lengthAdjust="spacingAndGlyphs">MFNSB 11US039 2</text>
<text x="896.6" y="1090.67" font-size="14.4" text-anchor="middle" textLength="28.41" lengthAdjust="spacingAndGlyphs">NA3</text>
<text x="1023.17" y="1089.62" font-size="12.9" textLength="25.56" lengthAdjust="spacingAndGlyphs">2011</text>
<text x="712.1" y="1105.33" font-size="14.2" textLength="122.29" lengthAdjust="spacingAndGlyphs">MFNSB 11US014 2</text>
<text x="896.6" y="1105.53" font-size="14.4" text-anchor="middle" textLength="28.41" lengthAdjust="spacingAndGlyphs">NA3</text>
<text x="1023.17" y="1104.48" font-size="12.9" textLength="25.56" lengthAdjust="spacingAndGlyphs">2011</text>
<text x="712.1" y="1120.17" font-size="14.2" textLength="125.6" lengthAdjust="spacingAndGlyphs">MFNSB 11US220 3</text>
<text x="896.6" y="1120.38" font-size="14.4" text-anchor="middle" textLength="28.41" lengthAdjust="spacingAndGlyphs">NA3</text>
<text x="1023.17" y="1119.33" font-size="12.9" textLength="25.56" lengthAdjust="spacingAndGlyphs">2011</text>
<text x="712.1" y="1135.03" font-size="14.2" textLength="103.18" lengthAdjust="spacingAndGlyphs">TDFSS 04TX86</text>
<text x="896.6" y="1135.23" font-size="14.4" text-anchor="middle" textLength="28.41" lengthAdjust="spacingAndGlyphs">NA3</text>
<text x="1014.57" y="1134.18" font-size="12.9" textLength="30.8" lengthAdjust="spacingAndGlyphs">2004</text>
<text x="712.1" y="1149.88" font-size="14.2" textLength="110.57" lengthAdjust="spacingAndGlyphs">TCPSS 04KS213</text>
<text x="896.6" y="1150.08" font-size="14.4" text-anchor="middle" textLength="28.41" lengthAdjust="spacingAndGlyphs">NA3</text>
<text x="1014.57" y="1149.03" font-size="12.9" textLength="30.8" lengthAdjust="spacingAndGlyphs">2004</text>
<text x="712.1" y="1164.72" font-size="14.2" textLength="122.29" lengthAdjust="spacingAndGlyphs">MDFSB 11US187 2</text>
<text x="896.6" y="1164.92" font-size="14.4" text-anchor="middle" textLength="28.41" lengthAdjust="spacingAndGlyphs">NA3</text>
<text x="1023.17" y="1163.88" font-size="12.9" textLength="25.56" lengthAdjust="spacingAndGlyphs">2011</text>
<text x="712.1" y="1179.58" font-size="14.2" textLength="119.86" lengthAdjust="spacingAndGlyphs">MCPSS 04ND477</text>
<text x="896.6" y="1179.78" font-size="14.4" text-anchor="middle" textLength="28.41" lengthAdjust="spacingAndGlyphs">NA3</text>
<text x="1014.57" y="1178.73" font-size="12.9" textLength="30.8" lengthAdjust="spacingAndGlyphs">2004</text>
<text x="712.1" y="1194.42" font-size="14.2" textLength="131.48" lengthAdjust="spacingAndGlyphs">FBMTK 04GA88 03</text>
<text x="1014.57" y="1193.58" font-size="12.9" textLength="30.8" lengthAdjust="spacingAndGlyphs">2004</text>
<text x="712.1" y="1209.28" font-size="14.2" textLength="119.73" lengthAdjust="spacingAndGlyphs">MDPSB 11US122 1</text>
<text x="896.6" y="1209.48" font-size="14.4" text-anchor="middle" textLength="28.41" lengthAdjust="spacingAndGlyphs">NA3</text>
<text x="1023.17" y="1208.43" font-size="12.9" textLength="25.56" lengthAdjust="spacingAndGlyphs">2011</text>
<g stroke="#000" stroke-opacity="0.085" stroke-width="1" stroke-dasharray="2.5,4.9" fill="none">
<line x1="282" y1="625.38" x2="709" y2="625.38"/>
<line x1="232.5" y1="640.23" x2="709" y2="640.23"/>
<line x1="243" y1="655.08" x2="709" y2="655.08"/>
<line x1="251.5" y1="669.93" x2="709" y2="669.93"/>
<line x1="246" y1="684.77" x2="709" y2="684.77"/>
<line x1="246" y1="699.62" x2="709" y2="699.62"/>
<line x1="267" y1="714.48" x2="709" y2="714.48"/>
<line x1="267" y1="729.33" x2="709" y2="729.33"/>
<line x1="267" y1="744.17" x2="709" y2="744.17"/>
<line x1="267" y1="759.02" x2="709" y2="759.02"/>
<line x1="246" y1="773.88" x2="709" y2="773.88"/>
<line x1="246" y1="788.73" x2="709" y2="788.73"/>
<line x1="246" y1="803.58" x2="709" y2="803.58"/>
<line x1="246" y1="818.42" x2="709" y2="818.42"/>
<line x1="246" y1="833.27" x2="709" y2="833.27"/>
<line x1="246" y1="848.12" x2="709" y2="848.12"/>
<line x1="246" y1="862.98" x2="709" y2="862.98"/>
<line x1="246" y1="877.83" x2="709" y2="877.83"/>
<line x1="246" y1="892.67" x2="709" y2="892.67"/>
<line x1="256" y1="907.53" x2="709" y2="907.53"/>
<line x1="256" y1="922.38" x2="709" y2="922.38"/>
<line x1="256" y1="937.23" x2="709" y2="937.23"/>
<line x1="256" y1="952.08" x2="709" y2="952.08"/>
<line x1="256" y1="966.92" x2="709" y2="966.92"/>
<line x1="256" y1="981.78" x2="709" y2="981.78"/>
<line x1="256" y1="996.62" x2="709" y2="996.62"/>
<line x1="255" y1="1011.48" x2="709" y2="1011.48"/>
<line x1="255" y1="1026.33" x2="709" y2="1026.33"/>
<line x1="255" y1="1041.17" x2="709" y2="1041.17"/>
<line x1="255" y1="1056.03" x2="709" y2="1056.03"/>
<line x1="255" y1="1070.88" x2="709" y2="1070.88"/>
<line x1="255" y1="1085.72" x2="709" y2="1085.72"/>
<line x1="255" y1="1100.58" x2="709" y2="1100.58"/>
<line x1="255" y1="1115.42" x2="709" y2="1115.42"/>
<line x1="255" y1="1130.28" x2="709" y2="1130.28"/>
<line x1="255" y1="1145.12" x2="709" y2="1145.12"/>
<line x1="255" y1="1159.97" x2="709" y2="1159.97"/>
<line x1="255" y1="1174.83" x2="709" y2="1174.83"/>
<line x1="255" y1="1189.67" x2="709" y2="1189.67"/>
<line x1="263.5" y1="1204.53" x2="709" y2="1204.53"/>
</g>
<g stroke="#000000" stroke-linecap="square" fill="none">
<line x1="0" y1="641.3" x2="26.3" y2="641.3" stroke-width="2"/>
<line x1="26.3" y1="610.8" x2="26.3" y2="671.8" stroke-width="2"/>
<line x1="26.3" y1="610.8" x2="709.4" y2="610.8" stroke-width="2"/>
<line x1="26.3" y1="671.8" x2="211.7" y2="671.8" stroke-width="2"/>
<line x1="211.7" y1="633" x2="211.7" y2="710.9" stroke-width="2"/>
<line x1="211.7" y1="633" x2="225.8" y2="633" stroke-width="2"/>
<line x1="225.8" y1="625.38" x2="225.8" y2="640.23" stroke-width="1.8"/>
<line x1="225.8" y1="625.38" x2="279.9" y2="625.38" stroke-width="1.8"/>
<line x1="225.8" y1="640.23" x2="230.5" y2="640.23" stroke-width="1.8"/>
<line x1="211.7" y1="710.9" x2="236.5" y2="710.9" stroke-width="2"/>
<line x1="238.3" y1="655.08" x2="240.8" y2="1043.3" stroke-width="2.6"/>
<line x1="238.5" y1="655.08" x2="241.5" y2="655.08" stroke-width="1.6"/>
<line x1="239.3" y1="669.93" x2="239.3" y2="684" stroke-width="1.6"/>
<line x1="239.3" y1="669.93" x2="249.5" y2="669.93" stroke-width="1.8"/>
<line x1="244.8" y1="720" x2="244.8" y2="728" stroke-width="1.6"/>
<line x1="244" y1="727.7" x2="262.9" y2="727.7" stroke-width="1.6"/>
<line x1="262.9" y1="714.48" x2="262.9" y2="759.02" stroke-width="1.6"/>
<line x1="262.9" y1="714.48" x2="265" y2="714.48" stroke-width="1.5"/>
<line x1="262.9" y1="729.33" x2="265" y2="729.33" stroke-width="1.5"/>
<line x1="262.9" y1="744.17" x2="265" y2="744.17" stroke-width="1.5"/>
<line x1="262.9" y1="759.02" x2="265" y2="759.02" stroke-width="1.5"/>
<line x1="239.5" y1="773.88" x2="244" y2="773.88" stroke-width="1.6"/>
<line x1="239.5" y1="788.73" x2="244" y2="788.73" stroke-width="1.6"/>
<line x1="239.5" y1="803.58" x2="244" y2="803.58" stroke-width="1.6"/>
<line x1="239.5" y1="818.42" x2="244" y2="818.42" stroke-width="1.6"/>
<line x1="239.5" y1="833.27" x2="244" y2="833.27" stroke-width="1.6"/>
<line x1="239.5" y1="848.12" x2="244" y2="848.12" stroke-width="1.6"/>
<line x1="239.5" y1="862.98" x2="244" y2="862.98" stroke-width="1.6"/>
<line x1="239.5" y1="877.83" x2="244" y2="877.83" stroke-width="1.6"/>
<line x1="239.5" y1="892.67" x2="244" y2="892.67" stroke-width="1.6"/>
<line x1="250.3" y1="907.53" x2="250.3" y2="996.62" stroke-width="1.6"/>
<line x1="250.3" y1="907.53" x2="254" y2="907.53" stroke-width="1.5"/>
<line x1="250.3" y1="922.38" x2="254" y2="922.38" stroke-width="1.5"/>
<line x1="250.3" y1="937.23" x2="254" y2="937.23" stroke-width="1.5"/>
<line x1="250.3" y1="952.08" x2="254" y2="952.08" stroke-width="1.5"/>
<line x1="250.3" y1="966.92" x2="254" y2="966.92" stroke-width="1.5"/>
<line x1="250.3" y1="981.78" x2="254" y2="981.78" stroke-width="1.5"/>
<line x1="250.3" y1="996.62" x2="254" y2="996.62" stroke-width="1.5"/>
<line x1="249" y1="1011.48" x2="249.6" y2="1204.53" stroke-width="1.8"/>
<line x1="249.3" y1="1011.48" x2="253" y2="1011.48" stroke-width="1.5"/>
<line x1="249.3" y1="1026.33" x2="253" y2="1026.33" stroke-width="1.5"/>
<line x1="249.3" y1="1041.17" x2="253" y2="1041.17" stroke-width="1.5"/>
<line x1="249.3" y1="1056.03" x2="253" y2="1056.03" stroke-width="1.5"/>
<line x1="249.3" y1="1070.88" x2="253" y2="1070.88" stroke-width="1.5"/>
<line x1="249.3" y1="1085.72" x2="253" y2="1085.72" stroke-width="1.5"/>
<line x1="249.3" y1="1100.58" x2="253" y2="1100.58" stroke-width="1.5"/>
<line x1="249.3" y1="1115.42" x2="253" y2="1115.42" stroke-width="1.5"/>
<line x1="249.3" y1="1130.28" x2="253" y2="1130.28" stroke-width="1.5"/>
<line x1="249.3" y1="1145.12" x2="253" y2="1145.12" stroke-width="1.5"/>
<line x1="249.3" y1="1159.97" x2="253" y2="1159.97" stroke-width="1.5"/>
<line x1="249.3" y1="1174.83" x2="253" y2="1174.83" stroke-width="1.5"/>
<line x1="249.3" y1="1189.67" x2="253" y2="1189.67" stroke-width="1.5"/>
<line x1="249.6" y1="1204.53" x2="261.8" y2="1204.53" stroke-width="1.8"/>
</g>
<g fill="#175480" stroke="#8d9ef0" stroke-width="0.8" stroke-opacity="0.85">
<circle cx="334" cy="610.8" r="7.3"/>
<circle cx="119.3" cy="671.8" r="7.3"/>
<circle cx="218.8" cy="633" r="6.7"/>
<circle cx="224.3" cy="710.9" r="6.7"/>
<circle cx="238.8" cy="684.5" r="6.7"/>
<circle cx="239.9" cy="699" r="6.4"/>
<circle cx="242.4" cy="713.6" r="6.7"/>
<circle cx="253.7" cy="727.7" r="6.7"/>
<circle cx="237.5" cy="765.9" r="6.6"/>
<circle cx="239" cy="785" r="5.2"/>
<circle cx="239.2" cy="796.4" r="4.3"/>
<circle cx="237.5" cy="846.9" r="6.6"/>
<circle cx="239.6" cy="846.9" r="6.6"/>
<circle cx="241.6" cy="861.3" r="6.8"/>
<circle cx="243.1" cy="885.5" r="6.6"/>
<circle cx="239.2" cy="909.2" r="7"/>
<circle cx="245.4" cy="922.2" r="7"/>
<circle cx="250.3" cy="977.8" r="3.6"/>
<circle cx="240.6" cy="985.7" r="7"/>
<circle cx="244.9" cy="1049.2" r="7"/>
</g>
<text transform="translate(2.2,549) scale(1.1,1)" x="0" y="0" font-size="37.5" font-weight="bold" fill="#000" stroke="#000" stroke-width="1.5" stroke-linejoin="round">c</text>
<text x="2" y="576.8" font-size="19.3" textLength="139" lengthAdjust="spacingAndGlyphs">Tree scale: 0.01</text>
<line x1="156.5" y1="571.9" x2="257.5" y2="571.9" stroke="#000" stroke-width="4"/>
<line x1="206.6" y1="571.9" x2="206.6" y2="578.6" stroke="#000" stroke-width="4"/>
<rect x="32.5" y="719.5" width="25.5" height="25.5" fill="#bebebe" stroke="#555" stroke-width="1"/>
<text x="68.7" y="738.46" font-size="19.5" textLength="109.5" lengthAdjust="spacingAndGlyphs">Haplotype C</text>
<rect x="1389" y="427.1" width="607.9" height="784.88" fill="#bebebe" />
<rect x="1563" y="483.98" width="433.9" height="125.12" fill="#cfe2f3" />
<rect x="1609.7" y="995.85" width="387.2" height="216.12" fill="#6fa8dc" />
<rect x="1999" y="427.1" width="75.3" height="23.15" fill="#fdb863" />
<rect x="1999" y="449.85" width="75.3" height="11.78" fill="#bf812d" />
<rect x="1999" y="461.23" width="75.3" height="23.15" fill="#e08214" />
<rect x="1999" y="483.98" width="75.3" height="125.53" fill="#bf812d" />
<rect x="1999" y="609.1" width="75.3" height="136.9" fill="#f6e8c3" />
<rect x="1999" y="745.6" width="75.3" height="11.78" fill="#ffff99" />
<rect x="1999" y="756.98" width="75.3" height="23.15" fill="#f6e8c3" />
<rect x="1999" y="779.73" width="75.3" height="11.78" fill="#4eb3d3" />
<rect x="1999" y="791.1" width="75.3" height="205.15" fill="#f6e8c3" />
<rect x="1999" y="995.85" width="75.3" height="216.12" fill="#bf812d" />
<rect x="2074.3" y="427.8" width="50.6" height="9.97" fill="#165481" />
<rect x="2074.3" y="439.18" width="56.22" height="9.97" fill="#165481" />
<rect x="2074.3" y="450.55" width="52.47" height="9.97" fill="#165481" />
<rect x="2074.3" y="461.93" width="14.06" height="9.97" fill="#165481" />
<rect x="2074.3" y="473.3" width="31.86" height="9.97" fill="#165481" />
<rect x="2074.3" y="484.68" width="8.43" height="9.97" fill="#165481" />
<rect x="2074.3" y="496.05" width="44.04" height="9.97" fill="#165481" />
<rect x="2074.3" y="507.43" width="16.87" height="9.97" fill="#165481" />
<rect x="2074.3" y="518.8" width="57.16" height="9.97" fill="#165481" />
<rect x="2074.3" y="530.18" width="51.54" height="9.97" fill="#165481" />
<rect x="2074.3" y="541.55" width="57.16" height="9.97" fill="#165481" />
<rect x="2074.3" y="552.93" width="57.16" height="9.97" fill="#165481" />
<rect x="2074.3" y="564.3" width="57.16" height="9.97" fill="#165481" />
<rect x="2074.3" y="575.68" width="50.6" height="9.97" fill="#165481" />
<rect x="2074.3" y="587.05" width="45.91" height="9.97" fill="#165481" />
<rect x="2074.3" y="598.43" width="57.16" height="9.97" fill="#165481" />
<rect x="2074.3" y="609.8" width="57.16" height="9.97" fill="#165481" />
<rect x="2074.3" y="621.18" width="57.16" height="9.97" fill="#165481" />
<rect x="2074.3" y="632.55" width="49.66" height="9.97" fill="#165481" />
<rect x="2074.3" y="643.93" width="52.47" height="9.97" fill="#165481" />
<rect x="2074.3" y="655.3" width="57.16" height="9.97" fill="#165481" />
<rect x="2074.3" y="666.68" width="57.16" height="9.97" fill="#165481" />
<rect x="2074.3" y="678.05" width="57.16" height="9.97" fill="#165481" />
<rect x="2074.3" y="689.43" width="57.16" height="9.97" fill="#165481" />
<rect x="2074.3" y="700.8" width="50.6" height="9.97" fill="#165481" />
<rect x="2074.3" y="712.18" width="57.16" height="9.97" fill="#165481" />
<rect x="2074.3" y="723.55" width="50.6" height="9.97" fill="#165481" />
<rect x="2074.3" y="734.93" width="57.16" height="9.97" fill="#165481" />
<rect x="2074.3" y="746.3" width="50.6" height="9.97" fill="#165481" />
<rect x="2074.3" y="757.68" width="50.6" height="9.97" fill="#165481" />
<rect x="2074.3" y="769.05" width="50.6" height="9.97" fill="#165481" />
<rect x="2074.3" y="780.43" width="65.59" height="9.97" fill="#165481" />
<rect x="2074.3" y="791.8" width="50.6" height="9.97" fill="#165481" />
<rect x="2074.3" y="803.18" width="49.66" height="9.97" fill="#165481" />
<rect x="2074.3" y="814.55" width="52.47" height="9.97" fill="#165481" />
<rect x="2074.3" y="825.93" width="57.16" height="9.97" fill="#165481" />
<rect x="2074.3" y="837.3" width="57.16" height="9.97" fill="#165481" />
<rect x="2074.3" y="848.68" width="57.16" height="9.97" fill="#165481" />
<rect x="2074.3" y="860.05" width="57.16" height="9.97" fill="#165481" />
<rect x="2074.3" y="871.43" width="56.22" height="9.97" fill="#165481" />
<rect x="2074.3" y="882.8" width="52.47" height="9.97" fill="#165481" />
<rect x="2074.3" y="894.18" width="57.16" height="9.97" fill="#165481" />
<rect x="2074.3" y="905.55" width="57.16" height="9.97" fill="#165481" />
<rect x="2074.3" y="916.93" width="57.16" height="9.97" fill="#165481" />
<rect x="2074.3" y="928.3" width="57.16" height="9.97" fill="#165481" />
<rect x="2074.3" y="939.68" width="57.16" height="9.97" fill="#165481" />
<rect x="2074.3" y="951.05" width="57.16" height="9.97" fill="#165481" />
<rect x="2074.3" y="962.43" width="57.16" height="9.97" fill="#165481" />
<rect x="2074.3" y="973.8" width="57.16" height="9.97" fill="#165481" />
<rect x="2074.3" y="985.18" width="57.16" height="9.97" fill="#165481" />
<rect x="2074.3" y="996.55" width="57.16" height="9.97" fill="#165481" />
<rect x="2074.3" y="1007.93" width="57.16" height="9.97" fill="#165481" />
<rect x="2074.3" y="1019.3" width="50.6" height="9.97" fill="#165481" />
<rect x="2074.3" y="1030.67" width="45.91" height="9.97" fill="#165481" />
<rect x="2074.3" y="1042.05" width="57.16" height="9.97" fill="#165481" />
<rect x="2074.3" y="1064.8" width="56.22" height="9.97" fill="#165481" />
<rect x="2074.3" y="1076.17" width="57.16" height="9.97" fill="#165481" />
<rect x="2074.3" y="1087.55" width="57.16" height="9.97" fill="#165481" />
<rect x="2074.3" y="1098.92" width="57.16" height="9.97" fill="#165481" />
<rect x="2074.3" y="1110.3" width="57.16" height="9.97" fill="#165481" />
<rect x="2074.3" y="1121.67" width="57.16" height="9.97" fill="#165481" />
<rect x="2074.3" y="1133.05" width="57.16" height="9.97" fill="#165481" />
<rect x="2074.3" y="1144.42" width="57.16" height="9.97" fill="#165481" />
<rect x="2074.3" y="1155.8" width="57.16" height="9.97" fill="#165481" />
<rect x="2074.3" y="1167.17" width="54.35" height="9.97" fill="#165481" />
<rect x="2074.3" y="1178.55" width="57.16" height="9.97" fill="#165481" />
<rect x="2074.3" y="1189.92" width="57.16" height="9.97" fill="#165481" />
<rect x="2074.3" y="1201.3" width="57.16" height="9.97" fill="#165481" />
<text x="1893.1" y="435.84" font-size="11.2" textLength="86.82" lengthAdjust="spacingAndGlyphs">SBDB 04MN364</text>
<text x="2036.65" y="435.99" font-size="11.6" text-anchor="middle" textLength="22.88" lengthAdjust="spacingAndGlyphs">NA4</text>
<text x="2127.1" y="435.79" font-size="11.2" textLength="26.4" lengthAdjust="spacingAndGlyphs">2004</text>
<text x="1893.1" y="447.21" font-size="11.2" textLength="90.39" lengthAdjust="spacingAndGlyphs">SBDGD 10MT13 1</text>
<text x="2036.65" y="447.36" font-size="11.6" text-anchor="middle" textLength="22.88" lengthAdjust="spacingAndGlyphs">NA4</text>
<text x="2132.72" y="447.16" font-size="11.2" textLength="24.16" lengthAdjust="spacingAndGlyphs">2010</text>
<text x="1893.1" y="458.59" font-size="11.2" textLength="82.65" lengthAdjust="spacingAndGlyphs">MJBJ 97NE406</text>
<text x="2036.65" y="458.74" font-size="11.6" text-anchor="middle" textLength="22.88" lengthAdjust="spacingAndGlyphs">NA5</text>
<text x="2128.97" y="458.54" font-size="11.2" textLength="26.4" lengthAdjust="spacingAndGlyphs">2006</text>
<text x="1893.1" y="469.96" font-size="11.2" textLength="72.74" lengthAdjust="spacingAndGlyphs">PBJL PRTUS6</text>
<text x="2036.65" y="470.11" font-size="11.6" text-anchor="middle" textLength="22.88" lengthAdjust="spacingAndGlyphs">NA6</text>
<text x="2090.55" y="469.91" font-size="11.2" textLength="24.16" lengthAdjust="spacingAndGlyphs">1965</text>
<text x="1893.1" y="481.34" font-size="11.2" textLength="65.72" lengthAdjust="spacingAndGlyphs">PBJSF 84VA</text>
<text x="2036.65" y="481.49" font-size="11.6" text-anchor="middle" textLength="22.88" lengthAdjust="spacingAndGlyphs">NA6</text>
<text x="2108.36" y="481.29" font-size="11.2" textLength="24.16" lengthAdjust="spacingAndGlyphs">1984</text>
<text x="1893.1" y="492.71" font-size="11.2" textLength="76.85" lengthAdjust="spacingAndGlyphs">MBBJT RACE5</text>
<text x="2036.65" y="492.86" font-size="11.6" text-anchor="middle" textLength="22.88" lengthAdjust="spacingAndGlyphs">NA5</text>
<text x="2084.93" y="492.66" font-size="11.2" textLength="24.16" lengthAdjust="spacingAndGlyphs">1959</text>
<text x="1893.1" y="504.09" font-size="11.2" textLength="90.32" lengthAdjust="spacingAndGlyphs">KFBJG 97CA64 1</text>
<text x="2036.65" y="504.24" font-size="11.6" text-anchor="middle" textLength="22.88" lengthAdjust="spacingAndGlyphs">NA5</text>
<text x="2120.54" y="504.04" font-size="11.2" textLength="24.16" lengthAdjust="spacingAndGlyphs">1997</text>
<text x="1893.1" y="515.46" font-size="11.2" textLength="85.43" lengthAdjust="spacingAndGlyphs">PRTUS1 PRTUS1</text>
<text x="2036.65" y="515.61" font-size="11.6" text-anchor="middle" textLength="22.88" lengthAdjust="spacingAndGlyphs">NA5</text>
<text x="2093.37" y="515.41" font-size="11.2" textLength="24.16" lengthAdjust="spacingAndGlyphs">1968</text>
<text x="1893.1" y="526.84" font-size="11.2" textLength="93.16" lengthAdjust="spacingAndGlyphs">TNRJJ 11US043 3</text>
<text x="2036.65" y="526.99" font-size="11.6" text-anchor="middle" textLength="22.88" lengthAdjust="spacingAndGlyphs">NA5</text>
<text x="2133.66" y="526.79" font-size="11.2" textLength="21.91" lengthAdjust="spacingAndGlyphs">2011</text>
<text x="1893.1" y="538.21" font-size="11.2" textLength="73.66" lengthAdjust="spacingAndGlyphs">TNRJ 05TX27</text>
<text x="2036.65" y="538.36" font-size="11.6" text-anchor="middle" textLength="22.88" lengthAdjust="spacingAndGlyphs">NA5</text>
<text x="2128.03" y="538.16" font-size="11.2" textLength="26.4" lengthAdjust="spacingAndGlyphs">2005</text>
<text x="1893.1" y="549.59" font-size="11.2" textLength="93.16" lengthAdjust="spacingAndGlyphs">TNRJJ 11US098 2</text>
<text x="2036.65" y="549.74" font-size="11.6" text-anchor="middle" textLength="22.88" lengthAdjust="spacingAndGlyphs">NA5</text>
<text x="2133.66" y="549.54" font-size="11.2" textLength="21.91" lengthAdjust="spacingAndGlyphs">2011</text>
<text x="1893.1" y="560.96" font-size="11.2" textLength="95.3" lengthAdjust="spacingAndGlyphs">TCRKG 11US057 1</text>
<text x="2036.65" y="561.11" font-size="11.6" text-anchor="middle" textLength="22.88" lengthAdjust="spacingAndGlyphs">NA5</text>
<text x="2133.66" y="560.91" font-size="11.2" textLength="21.91" lengthAdjust="spacingAndGlyphs">2011</text>
<text x="1893.1" y="572.34" font-size="11.2" textLength="92.68" lengthAdjust="spacingAndGlyphs">TCRKG 11US116 2</text>
<text x="2036.65" y="572.49" font-size="11.6" text-anchor="middle" textLength="22.88" lengthAdjust="spacingAndGlyphs">NA5</text>
<text x="2133.66" y="572.29" font-size="11.2" textLength="21.91" lengthAdjust="spacingAndGlyphs">2011</text>
<text x="1893.1" y="583.71" font-size="11.2" textLength="84.83" lengthAdjust="spacingAndGlyphs">TCBJK 04TX104</text>
<text x="2036.65" y="583.86" font-size="11.6" text-anchor="middle" textLength="22.88" lengthAdjust="spacingAndGlyphs">NA5</text>
<text x="2127.1" y="583.66" font-size="11.2" textLength="26.4" lengthAdjust="spacingAndGlyphs">2004</text>
<text x="1893.1" y="595.09" font-size="11.2" textLength="82.09" lengthAdjust="spacingAndGlyphs">THBJ 99ND588</text>
<text x="2036.65" y="595.24" font-size="11.6" text-anchor="middle" textLength="22.88" lengthAdjust="spacingAndGlyphs">NA5</text>
<text x="2122.41" y="595.04" font-size="11.2" textLength="24.16" lengthAdjust="spacingAndGlyphs">1999</text>
<text x="1893.1" y="606.46" font-size="11.2" textLength="95.54" lengthAdjust="spacingAndGlyphs">TCBJG 11US053 3</text>
<text x="2036.65" y="606.61" font-size="11.6" text-anchor="middle" textLength="22.88" lengthAdjust="spacingAndGlyphs">NA5</text>
<text x="2133.66" y="606.41" font-size="11.2" textLength="21.91" lengthAdjust="spacingAndGlyphs">2011</text>
<text x="1893.1" y="617.84" font-size="11.2" textLength="100.26" lengthAdjust="spacingAndGlyphs">MDDSB 11US040 3</text>
<text x="2036.65" y="617.99" font-size="11.6" text-anchor="middle" textLength="22.88" lengthAdjust="spacingAndGlyphs">NA3</text>
<text x="2133.66" y="617.79" font-size="11.2" textLength="21.91" lengthAdjust="spacingAndGlyphs">2011</text>
<text x="1893.1" y="629.21" font-size="11.2" textLength="97.64" lengthAdjust="spacingAndGlyphs">MCDSB 11US185 2</text>
<text x="2036.65" y="629.36" font-size="11.6" text-anchor="middle" textLength="22.88" lengthAdjust="spacingAndGlyphs">NA3</text>
<text x="2133.66" y="629.16" font-size="11.2" textLength="21.91" lengthAdjust="spacingAndGlyphs">2011</text>
<text x="1893.1" y="640.59" font-size="11.2" textLength="88.59" lengthAdjust="spacingAndGlyphs">MHDS 03OH237</text>
<text x="2036.65" y="640.74" font-size="11.6" text-anchor="middle" textLength="22.88" lengthAdjust="spacingAndGlyphs">NA3</text>
<text x="2126.16" y="640.54" font-size="11.2" textLength="26.4" lengthAdjust="spacingAndGlyphs">2003</text>
<text x="1893.1" y="651.96" font-size="11.2" textLength="88.55" lengthAdjust="spacingAndGlyphs">MFPS 06MN268</text>
<text x="2036.65" y="652.11" font-size="11.6" text-anchor="middle" textLength="22.88" lengthAdjust="spacingAndGlyphs">NA3</text>
<text x="2128.97" y="651.91" font-size="11.2" textLength="26.4" lengthAdjust="spacingAndGlyphs">2006</text>
<text x="1893.1" y="663.34" font-size="11.2" textLength="99.07" lengthAdjust="spacingAndGlyphs">MFNSB 11US039 2</text>
<text x="2036.65" y="663.49" font-size="11.6" text-anchor="middle" textLength="22.88" lengthAdjust="spacingAndGlyphs">NA3</text>
<text x="2133.66" y="663.29" font-size="11.2" textLength="21.91" lengthAdjust="spacingAndGlyphs">2011</text>
<text x="1893.1" y="674.71" font-size="11.2" textLength="99.07" lengthAdjust="spacingAndGlyphs">MFNSB 11US074 2</text>
<text x="2036.65" y="674.86" font-size="11.6" text-anchor="middle" textLength="22.88" lengthAdjust="spacingAndGlyphs">NA3</text>
<text x="2133.66" y="674.66" font-size="11.2" textLength="21.91" lengthAdjust="spacingAndGlyphs">2011</text>
<text x="1893.1" y="686.09" font-size="11.2" textLength="96.45" lengthAdjust="spacingAndGlyphs">MFNSB 11US014 2</text>
<text x="2036.65" y="686.24" font-size="11.6" text-anchor="middle" textLength="22.88" lengthAdjust="spacingAndGlyphs">NA3</text>
<text x="2133.66" y="686.04" font-size="11.2" textLength="21.91" lengthAdjust="spacingAndGlyphs">2011</text>
<text x="1893.1" y="697.46" font-size="11.2" textLength="99.07" lengthAdjust="spacingAndGlyphs">MFNSB 11US220 3</text>
<text x="2036.65" y="697.61" font-size="11.6" text-anchor="middle" textLength="22.88" lengthAdjust="spacingAndGlyphs">NA3</text>
<text x="2133.66" y="697.41" font-size="11.2" textLength="21.91" lengthAdjust="spacingAndGlyphs">2011</text>
<text x="1893.1" y="708.84" font-size="11.2" textLength="81.38" lengthAdjust="spacingAndGlyphs">TDFSS 04TX86</text>
<text x="2036.65" y="708.99" font-size="11.6" text-anchor="middle" textLength="22.88" lengthAdjust="spacingAndGlyphs">NA3</text>
<text x="2127.1" y="708.79" font-size="11.2" textLength="26.4" lengthAdjust="spacingAndGlyphs">2004</text>
<text x="1893.1" y="720.21" font-size="11.2" textLength="94.44" lengthAdjust="spacingAndGlyphs">MDPSB 11US122 1</text>
<text x="2036.65" y="720.36" font-size="11.6" text-anchor="middle" textLength="22.88" lengthAdjust="spacingAndGlyphs">NA3</text>
<text x="2133.66" y="720.16" font-size="11.2" textLength="21.91" lengthAdjust="spacingAndGlyphs">2011</text>
<text x="1893.1" y="731.59" font-size="11.2" textLength="94.54" lengthAdjust="spacingAndGlyphs">MCPSS 04ND477</text>
<text x="2036.65" y="731.74" font-size="11.6" text-anchor="middle" textLength="22.88" lengthAdjust="spacingAndGlyphs">NA3</text>
<text x="2127.1" y="731.54" font-size="11.2" textLength="26.4" lengthAdjust="spacingAndGlyphs">2004</text>
<text x="1893.1" y="742.96" font-size="11.2" textLength="96.45" lengthAdjust="spacingAndGlyphs">MDFSB 11US187 2</text>
<text x="2036.65" y="743.11" font-size="11.6" text-anchor="middle" textLength="22.88" lengthAdjust="spacingAndGlyphs">NA3</text>
<text x="2133.66" y="742.91" font-size="11.2" textLength="21.91" lengthAdjust="spacingAndGlyphs">2011</text>
<text x="1893.1" y="754.34" font-size="11.2" textLength="103.7" lengthAdjust="spacingAndGlyphs">FBMTK 04GA88 03</text>
<text x="2127.1" y="754.29" font-size="11.2" textLength="26.4" lengthAdjust="spacingAndGlyphs">2004</text>
<text x="1893.1" y="765.71" font-size="11.2" textLength="87.21" lengthAdjust="spacingAndGlyphs">TCPSS 04KS213</text>
<text x="2036.65" y="765.86" font-size="11.6" text-anchor="middle" textLength="22.88" lengthAdjust="spacingAndGlyphs">NA3</text>
<text x="2127.1" y="765.66" font-size="11.2" textLength="26.4" lengthAdjust="spacingAndGlyphs">2004</text>
<text x="1893.1" y="777.09" font-size="11.2" textLength="92.75" lengthAdjust="spacingAndGlyphs">MCJSS 04ND447</text>
<text x="2036.65" y="777.24" font-size="11.6" text-anchor="middle" textLength="22.88" lengthAdjust="spacingAndGlyphs">NA3</text>
<text x="2127.1" y="777.04" font-size="11.2" textLength="26.4" lengthAdjust="spacingAndGlyphs">2004</text>
<text x="1893.1" y="788.46" font-size="11.2" textLength="50.95" lengthAdjust="spacingAndGlyphs">20QLD87</text>
<text x="2036.65" y="788.61" font-size="11.6" text-anchor="middle" textLength="22.88" lengthAdjust="spacingAndGlyphs">AU3</text>
<text x="2142.09" y="788.41" font-size="11.2" textLength="26.4" lengthAdjust="spacingAndGlyphs">2020</text>
<text x="1893.1" y="799.84" font-size="11.2" textLength="74.85" lengthAdjust="spacingAndGlyphs">TBDS 04TX67</text>
<text x="2036.65" y="799.99" font-size="11.6" text-anchor="middle" textLength="22.88" lengthAdjust="spacingAndGlyphs">NA3</text>
<text x="2127.1" y="799.79" font-size="11.2" textLength="26.4" lengthAdjust="spacingAndGlyphs">2004</text>
<text x="1893.1" y="811.21" font-size="11.2" textLength="98.36" lengthAdjust="spacingAndGlyphs">MCDS 03CA360 2</text>
<text x="2036.65" y="811.36" font-size="11.6" text-anchor="middle" textLength="22.88" lengthAdjust="spacingAndGlyphs">NA3</text>
<text x="2126.16" y="811.16" font-size="11.2" textLength="26.4" lengthAdjust="spacingAndGlyphs">2003</text>
<text x="1893.1" y="822.59" font-size="11.2" textLength="95.98" lengthAdjust="spacingAndGlyphs">MBDS 06CAN32-1</text>
<text x="2036.65" y="822.74" font-size="11.6" text-anchor="middle" textLength="22.88" lengthAdjust="spacingAndGlyphs">NA3</text>
<text x="2128.97" y="822.54" font-size="11.2" textLength="26.4" lengthAdjust="spacingAndGlyphs">2006</text>
<text x="1893.1" y="833.96" font-size="11.2" textLength="97.05" lengthAdjust="spacingAndGlyphs">MCPSB 11US230 1</text>
<text x="2036.65" y="834.11" font-size="11.6" text-anchor="middle" textLength="22.88" lengthAdjust="spacingAndGlyphs">NA3</text>
<text x="2133.66" y="833.91" font-size="11.2" textLength="21.91" lengthAdjust="spacingAndGlyphs">2011</text>
<text x="1893.1" y="845.34" font-size="11.2" textLength="93.85" lengthAdjust="spacingAndGlyphs">MBPSB 11US159 1</text>
<text x="2036.65" y="845.49" font-size="11.6" text-anchor="middle" textLength="22.88" lengthAdjust="spacingAndGlyphs">NA3</text>
<text x="2133.66" y="845.29" font-size="11.2" textLength="21.91" lengthAdjust="spacingAndGlyphs">2011</text>
<text x="1893.1" y="856.71" font-size="11.2" textLength="100.57" lengthAdjust="spacingAndGlyphs">MMDSD 11US075 1</text>
<text x="2036.65" y="856.86" font-size="11.6" text-anchor="middle" textLength="22.88" lengthAdjust="spacingAndGlyphs">NA3</text>
<text x="2133.66" y="856.66" font-size="11.2" textLength="21.91" lengthAdjust="spacingAndGlyphs">2011</text>
<text x="1893.1" y="868.09" font-size="11.2" textLength="99.07" lengthAdjust="spacingAndGlyphs">MLDSD 11US025 3</text>
<text x="2036.65" y="868.24" font-size="11.6" text-anchor="middle" textLength="22.88" lengthAdjust="spacingAndGlyphs">NA3</text>
<text x="2133.66" y="868.04" font-size="11.2" textLength="21.91" lengthAdjust="spacingAndGlyphs">2011</text>
<text x="1893.1" y="879.46" font-size="11.2" textLength="86.92" lengthAdjust="spacingAndGlyphs">MLDSS 10MN1 2</text>
<text x="2036.65" y="879.61" font-size="11.6" text-anchor="middle" textLength="22.88" lengthAdjust="spacingAndGlyphs">NA3</text>
<text x="2132.72" y="879.41" font-size="11.2" textLength="24.16" lengthAdjust="spacingAndGlyphs">2010</text>
<text x="1893.1" y="890.84" font-size="11.2" textLength="88.56" lengthAdjust="spacingAndGlyphs">MLDS 06MN384</text>
<text x="2036.65" y="890.99" font-size="11.6" text-anchor="middle" textLength="22.88" lengthAdjust="spacingAndGlyphs">NA3</text>
<text x="2128.97" y="890.79" font-size="11.2" textLength="26.4" lengthAdjust="spacingAndGlyphs">2006</text>
<text x="1893.1" y="902.21" font-size="11.2" textLength="99.66" lengthAdjust="spacingAndGlyphs">MCTNB 11US204 3</text>
<text x="2036.65" y="902.36" font-size="11.6" text-anchor="middle" textLength="22.88" lengthAdjust="spacingAndGlyphs">NA3</text>
<text x="2133.66" y="902.16" font-size="11.2" textLength="21.91" lengthAdjust="spacingAndGlyphs">2011</text>
<text x="1893.1" y="913.59" font-size="11.2" textLength="99.66" lengthAdjust="spacingAndGlyphs">MCTNB 11US205 2</text>
<text x="2036.65" y="913.74" font-size="11.6" text-anchor="middle" textLength="22.88" lengthAdjust="spacingAndGlyphs">NA3</text>
<text x="2133.66" y="913.54" font-size="11.2" textLength="21.91" lengthAdjust="spacingAndGlyphs">2011</text>
<text x="1893.1" y="924.96" font-size="11.2" textLength="96.45" lengthAdjust="spacingAndGlyphs">MBTNB 11US148 2</text>
<text x="2036.65" y="925.11" font-size="11.6" text-anchor="middle" textLength="22.88" lengthAdjust="spacingAndGlyphs">NA3</text>
<text x="2133.66" y="924.91" font-size="11.2" textLength="21.91" lengthAdjust="spacingAndGlyphs">2011</text>
<text x="1893.1" y="936.34" font-size="11.2" textLength="93.84" lengthAdjust="spacingAndGlyphs">MBTNB 11US213 1</text>
<text x="2036.65" y="936.49" font-size="11.6" text-anchor="middle" textLength="22.88" lengthAdjust="spacingAndGlyphs">NA3</text>
<text x="2133.66" y="936.29" font-size="11.2" textLength="21.91" lengthAdjust="spacingAndGlyphs">2011</text>
<text x="1893.1" y="947.71" font-size="11.2" textLength="92.92" lengthAdjust="spacingAndGlyphs">TCTSB 11US189 3</text>
<text x="2036.65" y="947.86" font-size="11.6" text-anchor="middle" textLength="22.88" lengthAdjust="spacingAndGlyphs">NA3</text>
<text x="2133.66" y="947.66" font-size="11.2" textLength="21.91" lengthAdjust="spacingAndGlyphs">2011</text>
<text x="1893.1" y="959.09" font-size="11.2" textLength="91.74" lengthAdjust="spacingAndGlyphs">TCJSB 11US078 1</text>
<text x="2036.65" y="959.24" font-size="11.6" text-anchor="middle" textLength="22.88" lengthAdjust="spacingAndGlyphs">NA3</text>
<text x="2133.66" y="959.04" font-size="11.2" textLength="21.91" lengthAdjust="spacingAndGlyphs">2011</text>
<text x="1893.1" y="970.46" font-size="11.2" textLength="97.64" lengthAdjust="spacingAndGlyphs">MBDSD 11US144 2</text>
<text x="2036.65" y="970.61" font-size="11.6" text-anchor="middle" textLength="22.88" lengthAdjust="spacingAndGlyphs">NA3</text>
<text x="2133.66" y="970.41" font-size="11.2" textLength="21.91" lengthAdjust="spacingAndGlyphs">2011</text>
<text x="1893.1" y="981.84" font-size="11.2" textLength="97.64" lengthAdjust="spacingAndGlyphs">MBDSD 11US129 2</text>
<text x="2036.65" y="981.99" font-size="11.6" text-anchor="middle" textLength="22.88" lengthAdjust="spacingAndGlyphs">NA3</text>
<text x="2133.66" y="981.79" font-size="11.2" textLength="21.91" lengthAdjust="spacingAndGlyphs">2011</text>
<text x="1893.1" y="993.21" font-size="11.2" textLength="100.85" lengthAdjust="spacingAndGlyphs">MCDSD 11US034 2</text>
<text x="2036.65" y="993.36" font-size="11.6" text-anchor="middle" textLength="22.88" lengthAdjust="spacingAndGlyphs">NA3</text>
<text x="2133.66" y="993.16" font-size="11.2" textLength="21.91" lengthAdjust="spacingAndGlyphs">2011</text>
<text x="1893.1" y="1004.59" font-size="11.2" textLength="92.33" lengthAdjust="spacingAndGlyphs">TBBGJ 11US042 1</text>
<text x="2036.65" y="1004.74" font-size="11.6" text-anchor="middle" textLength="22.88" lengthAdjust="spacingAndGlyphs">NA5</text>
<text x="2133.66" y="1004.54" font-size="11.2" textLength="21.91" lengthAdjust="spacingAndGlyphs">2011</text>
<text x="1893.1" y="1015.96" font-size="11.2" textLength="92.33" lengthAdjust="spacingAndGlyphs">TPBGJ 11US044 1</text>
<text x="2036.65" y="1016.11" font-size="11.6" text-anchor="middle" textLength="22.88" lengthAdjust="spacingAndGlyphs">NA5</text>
<text x="2133.66" y="1015.91" font-size="11.2" textLength="21.91" lengthAdjust="spacingAndGlyphs">2011</text>
<text x="1893.1" y="1027.34" font-size="11.2" textLength="91" lengthAdjust="spacingAndGlyphs">TJBGH 04OH300</text>
<text x="2036.65" y="1027.49" font-size="11.6" text-anchor="middle" textLength="22.88" lengthAdjust="spacingAndGlyphs">NA5</text>
<text x="2127.1" y="1027.29" font-size="11.2" textLength="26.4" lengthAdjust="spacingAndGlyphs">2004</text>
<text x="1893.1" y="1038.71" font-size="11.2" textLength="103.95" lengthAdjust="spacingAndGlyphs">MBGDK 99NC23 1B</text>
<text x="2036.65" y="1038.86" font-size="11.6" text-anchor="middle" textLength="22.88" lengthAdjust="spacingAndGlyphs">NA5</text>
<text x="2122.41" y="1038.66" font-size="11.2" textLength="24.16" lengthAdjust="spacingAndGlyphs">1999</text>
<text x="1893.1" y="1050.09" font-size="11.2" textLength="96.72" lengthAdjust="spacingAndGlyphs">TCGJG 11US256 3</text>
<text x="2036.65" y="1050.24" font-size="11.6" text-anchor="middle" textLength="22.88" lengthAdjust="spacingAndGlyphs">NA5</text>
<text x="2133.66" y="1050.04" font-size="11.2" textLength="21.91" lengthAdjust="spacingAndGlyphs">2011</text>
<text x="1893.1" y="1061.46" font-size="11.2" textLength="83.16" lengthAdjust="spacingAndGlyphs">MBRL KSUSDA1</text>
<text x="2036.65" y="1061.61" font-size="11.6" text-anchor="middle" textLength="22.88" lengthAdjust="spacingAndGlyphs">NA5</text>
<text x="1893.1" y="1072.84" font-size="11.2" textLength="93.74" lengthAdjust="spacingAndGlyphs">TFBJQ 10MN3 1 2</text>
<text x="2036.65" y="1072.99" font-size="11.6" text-anchor="middle" textLength="22.88" lengthAdjust="spacingAndGlyphs">NA5</text>
<text x="2132.72" y="1072.79" font-size="11.2" textLength="24.16" lengthAdjust="spacingAndGlyphs">2010</text>
<text x="1893.1" y="1084.21" font-size="11.2" textLength="92.92" lengthAdjust="spacingAndGlyphs">TDBJQ 11US026 1</text>
<text x="2036.65" y="1084.36" font-size="11.6" text-anchor="middle" textLength="22.88" lengthAdjust="spacingAndGlyphs">NA5</text>
<text x="2133.66" y="1084.16" font-size="11.2" textLength="21.91" lengthAdjust="spacingAndGlyphs">2011</text>
<text x="1893.1" y="1095.59" font-size="11.2" textLength="92.92" lengthAdjust="spacingAndGlyphs">TDBJQ 11US091 2</text>
<text x="2036.65" y="1095.74" font-size="11.6" text-anchor="middle" textLength="22.88" lengthAdjust="spacingAndGlyphs">NA5</text>
<text x="2133.66" y="1095.54" font-size="11.2" textLength="21.91" lengthAdjust="spacingAndGlyphs">2011</text>
<text x="1893.1" y="1106.96" font-size="11.2" textLength="89.95" lengthAdjust="spacingAndGlyphs">TNBJJ 11US030 1</text>
<text x="2036.65" y="1107.11" font-size="11.6" text-anchor="middle" textLength="22.88" lengthAdjust="spacingAndGlyphs">NA5</text>
<text x="2133.66" y="1106.91" font-size="11.2" textLength="21.91" lengthAdjust="spacingAndGlyphs">2011</text>
<text x="1893.1" y="1118.34" font-size="11.2" textLength="90.31" lengthAdjust="spacingAndGlyphs">TDBJG 11US154 1</text>
<text x="2036.65" y="1118.49" font-size="11.6" text-anchor="middle" textLength="22.88" lengthAdjust="spacingAndGlyphs">NA5</text>
<text x="2133.66" y="1118.29" font-size="11.2" textLength="21.91" lengthAdjust="spacingAndGlyphs">2011</text>
<text x="1893.1" y="1129.71" font-size="11.2" textLength="89.72" lengthAdjust="spacingAndGlyphs">TBBGJ 11US136 1</text>
<text x="2036.65" y="1129.86" font-size="11.6" text-anchor="middle" textLength="22.88" lengthAdjust="spacingAndGlyphs">NA5</text>
<text x="2133.66" y="1129.66" font-size="11.2" textLength="21.91" lengthAdjust="spacingAndGlyphs">2011</text>
<text x="1893.1" y="1141.09" font-size="11.2" textLength="92.09" lengthAdjust="spacingAndGlyphs">TFBGQ 11US212 1</text>
<text x="2036.65" y="1141.24" font-size="11.6" text-anchor="middle" textLength="22.88" lengthAdjust="spacingAndGlyphs">NA5</text>
<text x="2133.66" y="1141.04" font-size="11.2" textLength="21.91" lengthAdjust="spacingAndGlyphs">2011</text>
<text x="1893.1" y="1152.46" font-size="11.2" textLength="92.92" lengthAdjust="spacingAndGlyphs">TNBGJ 11US130 2</text>
<text x="2036.65" y="1152.61" font-size="11.6" text-anchor="middle" textLength="22.88" lengthAdjust="spacingAndGlyphs">NA5</text>
<text x="2133.66" y="1152.41" font-size="11.2" textLength="21.91" lengthAdjust="spacingAndGlyphs">2011</text>
<text x="1893.1" y="1163.84" font-size="11.2" textLength="94.7" lengthAdjust="spacingAndGlyphs">TFBGG 11US176 2</text>
<text x="2036.65" y="1163.99" font-size="11.6" text-anchor="middle" textLength="22.88" lengthAdjust="spacingAndGlyphs">NA5</text>
<text x="2133.66" y="1163.79" font-size="11.2" textLength="21.91" lengthAdjust="spacingAndGlyphs">2011</text>
<text x="1893.1" y="1175.21" font-size="11.2" textLength="80.67" lengthAdjust="spacingAndGlyphs">TDBG 08TX210</text>
<text x="2036.65" y="1175.36" font-size="11.6" text-anchor="middle" textLength="22.88" lengthAdjust="spacingAndGlyphs">NA5</text>
<text x="2130.85" y="1175.16" font-size="11.2" textLength="26.4" lengthAdjust="spacingAndGlyphs">2008</text>
<text x="1893.1" y="1186.59" font-size="11.2" textLength="95.54" lengthAdjust="spacingAndGlyphs">TNBGJ 11US045 2</text>
<text x="2036.65" y="1186.74" font-size="11.6" text-anchor="middle" textLength="22.88" lengthAdjust="spacingAndGlyphs">NA5</text>
<text x="2133.66" y="1186.54" font-size="11.2" textLength="21.91" lengthAdjust="spacingAndGlyphs">2011</text>
<text x="1893.1" y="1197.96" font-size="11.2" textLength="95.54" lengthAdjust="spacingAndGlyphs">TNBGJ 11US048 2</text>
<text x="2036.65" y="1198.11" font-size="11.6" text-anchor="middle" textLength="22.88" lengthAdjust="spacingAndGlyphs">NA5</text>
<text x="2133.66" y="1197.91" font-size="11.2" textLength="21.91" lengthAdjust="spacingAndGlyphs">2011</text>
<text x="1893.1" y="1209.34" font-size="11.2" textLength="95.54" lengthAdjust="spacingAndGlyphs">TNBGJ 11US022 3</text>
<text x="2036.65" y="1209.49" font-size="11.6" text-anchor="middle" textLength="22.88" lengthAdjust="spacingAndGlyphs">NA5</text>
<text x="2133.66" y="1209.29" font-size="11.2" textLength="21.91" lengthAdjust="spacingAndGlyphs">2011</text>
<g stroke="#000" stroke-opacity="0.085" stroke-width="1" stroke-dasharray="2.5,5.8" fill="none">
<line x1="1416.8" y1="432.79" x2="1891" y2="432.79"/>
<line x1="1419.3" y1="444.16" x2="1891" y2="444.16"/>
<line x1="1526.4" y1="455.54" x2="1891" y2="455.54"/>
<line x1="1532.2" y1="466.91" x2="1891" y2="466.91"/>
<line x1="1536" y1="478.29" x2="1891" y2="478.29"/>
<line x1="1577.9" y1="489.66" x2="1891" y2="489.66"/>
<line x1="1595.7" y1="501.04" x2="1891" y2="501.04"/>
<line x1="1602" y1="512.41" x2="1891" y2="512.41"/>
<line x1="1672.7" y1="523.79" x2="1891" y2="523.79"/>
<line x1="1682.3" y1="535.16" x2="1891" y2="535.16"/>
<line x1="1685" y1="546.54" x2="1891" y2="546.54"/>
<line x1="1688" y1="557.91" x2="1891" y2="557.91"/>
<line x1="1690" y1="569.29" x2="1891" y2="569.29"/>
<line x1="1695.4" y1="580.66" x2="1891" y2="580.66"/>
<line x1="1700" y1="592.04" x2="1891" y2="592.04"/>
<line x1="1702.9" y1="603.41" x2="1891" y2="603.41"/>
<line x1="1542.3" y1="614.79" x2="1891" y2="614.79"/>
<line x1="1542.3" y1="626.16" x2="1891" y2="626.16"/>
<line x1="1542.3" y1="637.54" x2="1891" y2="637.54"/>
<line x1="1550.4" y1="648.91" x2="1891" y2="648.91"/>
<line x1="1561.4" y1="660.29" x2="1891" y2="660.29"/>
<line x1="1559.1" y1="671.66" x2="1891" y2="671.66"/>
<line x1="1560.3" y1="683.04" x2="1891" y2="683.04"/>
<line x1="1560.6" y1="694.41" x2="1891" y2="694.41"/>
<line x1="1557.8" y1="705.79" x2="1891" y2="705.79"/>
<line x1="1570.2" y1="717.16" x2="1891" y2="717.16"/>
<line x1="1567.7" y1="728.54" x2="1891" y2="728.54"/>
<line x1="1567" y1="739.91" x2="1891" y2="739.91"/>
<line x1="1570.5" y1="751.29" x2="1891" y2="751.29"/>
<line x1="1568.5" y1="762.66" x2="1891" y2="762.66"/>
<line x1="1567.5" y1="774.04" x2="1891" y2="774.04"/>
<line x1="1567.5" y1="785.41" x2="1891" y2="785.41"/>
<line x1="1567.5" y1="796.79" x2="1891" y2="796.79"/>
<line x1="1567.5" y1="808.16" x2="1891" y2="808.16"/>
<line x1="1567.5" y1="819.54" x2="1891" y2="819.54"/>
<line x1="1578.7" y1="830.91" x2="1891" y2="830.91"/>
<line x1="1574.5" y1="842.29" x2="1891" y2="842.29"/>
<line x1="1567.5" y1="853.66" x2="1891" y2="853.66"/>
<line x1="1567.5" y1="865.04" x2="1891" y2="865.04"/>
<line x1="1567.5" y1="876.41" x2="1891" y2="876.41"/>
<line x1="1567.5" y1="887.79" x2="1891" y2="887.79"/>
<line x1="1592.8" y1="899.16" x2="1891" y2="899.16"/>
<line x1="1593" y1="910.54" x2="1891" y2="910.54"/>
<line x1="1594.7" y1="921.91" x2="1891" y2="921.91"/>
<line x1="1593.8" y1="933.29" x2="1891" y2="933.29"/>
<line x1="1590.7" y1="944.66" x2="1891" y2="944.66"/>
<line x1="1603.5" y1="956.04" x2="1891" y2="956.04"/>
<line x1="1617" y1="967.41" x2="1891" y2="967.41"/>
<line x1="1617" y1="978.79" x2="1891" y2="978.79"/>
<line x1="1617" y1="990.16" x2="1891" y2="990.16"/>
<line x1="1625.8" y1="1001.54" x2="1891" y2="1001.54"/>
<line x1="1642.1" y1="1012.91" x2="1891" y2="1012.91"/>
<line x1="1662.9" y1="1024.29" x2="1891" y2="1024.29"/>
<line x1="1690.5" y1="1035.66" x2="1891" y2="1035.66"/>
<line x1="1704.8" y1="1047.04" x2="1891" y2="1047.04"/>
<line x1="1704" y1="1058.41" x2="1891" y2="1058.41"/>
<line x1="1771.6" y1="1069.79" x2="1891" y2="1069.79"/>
<line x1="1770.4" y1="1081.16" x2="1891" y2="1081.16"/>
<line x1="1766.7" y1="1092.54" x2="1891" y2="1092.54"/>
<line x1="1760.6" y1="1103.91" x2="1891" y2="1103.91"/>
<line x1="1793" y1="1115.29" x2="1891" y2="1115.29"/>
<line x1="1764.8" y1="1126.66" x2="1891" y2="1126.66"/>
<line x1="1802.8" y1="1138.04" x2="1891" y2="1138.04"/>
<line x1="1808.9" y1="1149.41" x2="1891" y2="1149.41"/>
<line x1="1800.9" y1="1160.79" x2="1891" y2="1160.79"/>
<line x1="1800.6" y1="1172.16" x2="1891" y2="1172.16"/>
<line x1="1820.2" y1="1194.91" x2="1891" y2="1194.91"/>
<line x1="1826.7" y1="1206.29" x2="1891" y2="1206.29"/>
</g>
<g stroke="#000000" stroke-linecap="square" fill="none">
<line x1="1153" y1="493.4" x2="1389" y2="493.4" stroke-width="1.5"/>
<line x1="1389" y1="438.5" x2="1389" y2="548" stroke-width="1.75"/>
<line x1="1389" y1="438.5" x2="1405" y2="438.5" stroke-width="1.75"/>
<line x1="1405" y1="432.79" x2="1405" y2="444.16" stroke-width="1.75"/>
<line x1="1405" y1="432.79" x2="1413.8" y2="432.79" stroke-width="1.8"/>
<line x1="1405" y1="444.16" x2="1416.3" y2="444.16" stroke-width="1.8"/>
<line x1="1389" y1="548" x2="1481.4" y2="548" stroke-width="1.75"/>
<line x1="1481.4" y1="464.2" x2="1481.4" y2="632.2" stroke-width="1.75"/>
<line x1="1481.4" y1="464.2" x2="1484.4" y2="464.2" stroke-width="1.75"/>
<line x1="1484.4" y1="455.54" x2="1484.4" y2="472.4" stroke-width="1.75"/>
<line x1="1484.4" y1="455.54" x2="1523.4" y2="455.54" stroke-width="1.8"/>
<line x1="1484.4" y1="472.4" x2="1524.3" y2="472.4" stroke-width="1.75"/>
<line x1="1524.3" y1="466.91" x2="1524.3" y2="478.29" stroke-width="1.75"/>
<line x1="1524.3" y1="466.91" x2="1529.2" y2="466.91" stroke-width="1.8"/>
<line x1="1524.3" y1="478.29" x2="1533" y2="478.29" stroke-width="1.8"/>
<line x1="1481.4" y1="632.2" x2="1505.3" y2="632.2" stroke-width="1.75"/>
<line x1="1505.3" y1="510.2" x2="1505.3" y2="754.2" stroke-width="1.75"/>
<line x1="1505.3" y1="510.2" x2="1563" y2="510.2" stroke-width="1.75"/>
<line x1="1563" y1="489.66" x2="1563" y2="530.5" stroke-width="1.75"/>
<line x1="1563" y1="489.66" x2="1574.9" y2="489.66" stroke-width="1.8"/>
<line x1="1563" y1="530.5" x2="1568.5" y2="530.5" stroke-width="1.75"/>
<line x1="1568.5" y1="506" x2="1568.5" y2="554.7" stroke-width="1.75"/>
<line x1="1568.5" y1="506" x2="1588.6" y2="506" stroke-width="1.75"/>
<line x1="1588.6" y1="501.04" x2="1588.6" y2="512.41" stroke-width="1.75"/>
<line x1="1588.6" y1="501.04" x2="1592.7" y2="501.04" stroke-width="1.8"/>
<line x1="1588.6" y1="512.41" x2="1599" y2="512.41" stroke-width="1.8"/>
<line x1="1568.5" y1="554.7" x2="1638.2" y2="554.7" stroke-width="1.75"/>
<line x1="1638.2" y1="532.4" x2="1638.2" y2="576.3" stroke-width="1.75"/>
<line x1="1638.2" y1="532.4" x2="1659.5" y2="532.4" stroke-width="1.75"/>
<line x1="1659.5" y1="523.79" x2="1659.5" y2="541.2" stroke-width="1.75"/>
<line x1="1659.5" y1="523.79" x2="1669.7" y2="523.79" stroke-width="1.8"/>
<line x1="1659.5" y1="541.2" x2="1669.7" y2="541.2" stroke-width="1.75"/>
<line x1="1669.7" y1="535.16" x2="1669.7" y2="546.54" stroke-width="1.75"/>
<line x1="1669.7" y1="535.16" x2="1679.3" y2="535.16" stroke-width="1.8"/>
<line x1="1669.7" y1="546.54" x2="1682" y2="546.54" stroke-width="1.8"/>
<line x1="1638.2" y1="576.3" x2="1666" y2="576.3" stroke-width="1.75"/>
<line x1="1666" y1="563.4" x2="1666" y2="589" stroke-width="1.75"/>
<line x1="1666" y1="563.4" x2="1678.8" y2="563.4" stroke-width="1.75"/>
<line x1="1678.8" y1="557.91" x2="1678.8" y2="569.29" stroke-width="1.75"/>
<line x1="1678.8" y1="557.91" x2="1685" y2="557.91" stroke-width="1.8"/>
<line x1="1678.8" y1="569.29" x2="1687" y2="569.29" stroke-width="1.8"/>
<line x1="1666" y1="589" x2="1685.4" y2="589" stroke-width="1.75"/>
<line x1="1685.4" y1="580.66" x2="1685.4" y2="597.7" stroke-width="1.75"/>
<line x1="1685.4" y1="580.66" x2="1692.4" y2="580.66" stroke-width="1.8"/>
<line x1="1685.4" y1="597.7" x2="1692" y2="597.7" stroke-width="1.75"/>
<line x1="1692" y1="592.04" x2="1692" y2="603.41" stroke-width="1.75"/>
<line x1="1692" y1="592.04" x2="1697" y2="592.04" stroke-width="1.8"/>
<line x1="1692" y1="603.41" x2="1699.9" y2="603.41" stroke-width="1.8"/>
<line x1="1505.3" y1="754.2" x2="1522.8" y2="754.2" stroke-width="1.75"/>
<line x1="1522.8" y1="641.2" x2="1522.8" y2="866.6" stroke-width="1.75"/>
<line x1="1522.8" y1="641.2" x2="1524.4" y2="641.2" stroke-width="1.75"/>
<line x1="1524.4" y1="623.9" x2="1524.4" y2="659.4" stroke-width="1.75"/>
<line x1="1524.4" y1="623.9" x2="1536.7" y2="623.9" stroke-width="1.75"/>
<line x1="1536.7" y1="614.79" x2="1536.7" y2="637.54" stroke-width="1.6"/>
<line x1="1536.7" y1="614.79" x2="1539.3" y2="614.79" stroke-width="1.6"/>
<line x1="1536.7" y1="626.16" x2="1539.3" y2="626.16" stroke-width="1.6"/>
<line x1="1536.7" y1="637.54" x2="1539.3" y2="637.54" stroke-width="1.6"/>
<line x1="1524.4" y1="659.4" x2="1537.5" y2="659.4" stroke-width="1.75"/>
<line x1="1537.5" y1="648.91" x2="1537.5" y2="670.4" stroke-width="1.75"/>
<line x1="1537.5" y1="648.91" x2="1547.4" y2="648.91" stroke-width="1.8"/>
<line x1="1537.5" y1="670.4" x2="1554" y2="670.4" stroke-width="1.75"/>
<line x1="1554" y1="660.29" x2="1554" y2="694.41" stroke-width="1.6"/>
<line x1="1554" y1="660.29" x2="1558.4" y2="660.29" stroke-width="1.6"/>
<line x1="1554" y1="671.66" x2="1556.1" y2="671.66" stroke-width="1.6"/>
<line x1="1554" y1="683.04" x2="1557.3" y2="683.04" stroke-width="1.6"/>
<line x1="1554" y1="694.41" x2="1557.6" y2="694.41" stroke-width="1.6"/>
<line x1="1522.8" y1="866.6" x2="1532.7" y2="866.6" stroke-width="1.75"/>
<line x1="1532.7" y1="725.4" x2="1532.7" y2="975.1" stroke-width="1.75"/>
<line x1="1532.7" y1="725.4" x2="1547.9" y2="725.4" stroke-width="1.75"/>
<line x1="1547.9" y1="711.6" x2="1547.9" y2="738.6" stroke-width="1.75"/>
<line x1="1547.9" y1="711.6" x2="1550" y2="711.6" stroke-width="1.75"/>
<line x1="1550" y1="705.79" x2="1550" y2="717.16" stroke-width="1.6"/>
<line x1="1550" y1="705.79" x2="1554.8" y2="705.79" stroke-width="1.6"/>
<line x1="1550" y1="717.16" x2="1567.2" y2="717.16" stroke-width="1.8"/>
<line x1="1547.9" y1="738.6" x2="1560.7" y2="738.6" stroke-width="1.75"/>
<line x1="1560.7" y1="728.54" x2="1560.7" y2="751.29" stroke-width="1.6"/>
<line x1="1560.7" y1="728.54" x2="1564.7" y2="728.54" stroke-width="1.6"/>
<line x1="1560.7" y1="739.91" x2="1564" y2="739.91" stroke-width="1.6"/>
<line x1="1560.7" y1="751.29" x2="1567.5" y2="751.29" stroke-width="1.6"/>
<line x1="1561.9" y1="751.3" x2="1561.9" y2="762.66" stroke-width="1.5"/>
<line x1="1561.9" y1="762.66" x2="1565.5" y2="762.66" stroke-width="1.6"/>
<line x1="1532.7" y1="791.7" x2="1559.4" y2="791.7" stroke-width="1.75"/>
<line x1="1559.4" y1="774.04" x2="1559.4" y2="887.79" stroke-width="1.7"/>
<line x1="1559.4" y1="774.04" x2="1564.5" y2="774.04" stroke-width="1.6"/>
<line x1="1559.4" y1="785.41" x2="1564.5" y2="785.41" stroke-width="1.6"/>
<line x1="1559.4" y1="796.79" x2="1564.5" y2="796.79" stroke-width="1.6"/>
<line x1="1559.4" y1="808.16" x2="1564.5" y2="808.16" stroke-width="1.6"/>
<line x1="1559.4" y1="819.54" x2="1564.5" y2="819.54" stroke-width="1.6"/>
<line x1="1559.4" y1="830.91" x2="1575.7" y2="830.91" stroke-width="1.6"/>
<line x1="1559.4" y1="842.29" x2="1571.5" y2="842.29" stroke-width="1.6"/>
<line x1="1559.4" y1="853.66" x2="1564.5" y2="853.66" stroke-width="1.6"/>
<line x1="1559.4" y1="865.04" x2="1564.5" y2="865.04" stroke-width="1.6"/>
<line x1="1559.4" y1="876.41" x2="1564.5" y2="876.41" stroke-width="1.6"/>
<line x1="1559.4" y1="887.79" x2="1564.5" y2="887.79" stroke-width="1.6"/>
<line x1="1532.7" y1="975.1" x2="1575.6" y2="975.1" stroke-width="1.75"/>
<line x1="1575.6" y1="935.6" x2="1575.6" y2="1014.6" stroke-width="1.75"/>
<line x1="1575.6" y1="935.6" x2="1581.3" y2="935.6" stroke-width="1.75"/>
<line x1="1581.3" y1="916.3" x2="1581.3" y2="966.1" stroke-width="1.7"/>
<line x1="1581.3" y1="916.3" x2="1587.3" y2="916.3" stroke-width="1.75"/>
<line x1="1587.3" y1="905" x2="1587.3" y2="927.5" stroke-width="1.6"/>
<line x1="1588" y1="899.16" x2="1588" y2="910.54" stroke-width="1.5"/>
<line x1="1588" y1="899.16" x2="1589.8" y2="899.16" stroke-width="1.6"/>
<line x1="1588" y1="910.54" x2="1590" y2="910.54" stroke-width="1.6"/>
<line x1="1586.8" y1="921.91" x2="1586.8" y2="933.29" stroke-width="1.6"/>
<line x1="1586.8" y1="921.91" x2="1591.7" y2="921.91" stroke-width="1.6"/>
<line x1="1586.8" y1="933.29" x2="1590.8" y2="933.29" stroke-width="1.6"/>
<line x1="1582.2" y1="944.66" x2="1582.2" y2="966.1" stroke-width="1.7"/>
<line x1="1582.2" y1="944.66" x2="1587.7" y2="944.66" stroke-width="1.6"/>
<line x1="1581.3" y1="966.1" x2="1596.8" y2="966.1" stroke-width="1.75"/>
<line x1="1596.8" y1="956.04" x2="1596.8" y2="976.2" stroke-width="1.75"/>
<line x1="1596.8" y1="956.04" x2="1600.5" y2="956.04" stroke-width="1.6"/>
<line x1="1596.8" y1="976.2" x2="1611" y2="976.2" stroke-width="1.75"/>
<line x1="1611" y1="967.41" x2="1611" y2="990.16" stroke-width="1.6"/>
<line x1="1611" y1="967.41" x2="1614" y2="967.41" stroke-width="1.6"/>
<line x1="1611" y1="978.79" x2="1614" y2="978.79" stroke-width="1.6"/>
<line x1="1611" y1="990.16" x2="1614" y2="990.16" stroke-width="1.6"/>
<line x1="1575.6" y1="1014.6" x2="1609.7" y2="1014.6" stroke-width="1.75"/>
<line x1="1609.7" y1="1001.54" x2="1609.7" y2="1027.6" stroke-width="1.75"/>
<line x1="1609.7" y1="1001.54" x2="1622.8" y2="1001.54" stroke-width="1.8"/>
<line x1="1609.7" y1="1027.6" x2="1627.3" y2="1027.6" stroke-width="1.75"/>
<line x1="1627.3" y1="1012.91" x2="1627.3" y2="1042.1" stroke-width="1.75"/>
<line x1="1627.3" y1="1012.91" x2="1639.1" y2="1012.91" stroke-width="1.8"/>
<line x1="1627.3" y1="1042.1" x2="1648.4" y2="1042.1" stroke-width="1.75"/>
<line x1="1648.4" y1="1024.29" x2="1648.4" y2="1059.7" stroke-width="1.75"/>
<line x1="1648.4" y1="1024.29" x2="1659.9" y2="1024.29" stroke-width="1.8"/>
<line x1="1648.4" y1="1059.7" x2="1673.6" y2="1059.7" stroke-width="1.75"/>
<line x1="1673.6" y1="1035.66" x2="1673.6" y2="1083.5" stroke-width="1.75"/>
<line x1="1673.6" y1="1035.66" x2="1687.5" y2="1035.66" stroke-width="1.8"/>
<line x1="1673.6" y1="1083.5" x2="1686.4" y2="1083.5" stroke-width="1.75"/>
<line x1="1686.4" y1="1052.9" x2="1686.4" y2="1114.5" stroke-width="1.75"/>
<line x1="1686.4" y1="1052.9" x2="1693.5" y2="1052.9" stroke-width="1.75"/>
<line x1="1693.5" y1="1047.04" x2="1693.5" y2="1058.41" stroke-width="1.75"/>
<line x1="1693.5" y1="1047.04" x2="1701.8" y2="1047.04" stroke-width="1.8"/>
<line x1="1693.5" y1="1058.41" x2="1701" y2="1058.41" stroke-width="1.8"/>
<line x1="1686.4" y1="1114.5" x2="1725.2" y2="1114.5" stroke-width="1.75"/>
<line x1="1725.2" y1="1084" x2="1725.2" y2="1144.6" stroke-width="1.75"/>
<line x1="1725.2" y1="1084" x2="1740.3" y2="1084" stroke-width="1.75"/>
<line x1="1740.3" y1="1069.79" x2="1740.3" y2="1098.6" stroke-width="1.75"/>
<line x1="1740.3" y1="1069.79" x2="1768.6" y2="1069.79" stroke-width="1.8"/>
<line x1="1740.3" y1="1098.6" x2="1750.8" y2="1098.6" stroke-width="1.75"/>
<line x1="1750.8" y1="1087" x2="1750.8" y2="1110" stroke-width="1.75"/>
<line x1="1750.8" y1="1087" x2="1758.4" y2="1087" stroke-width="1.75"/>
<line x1="1758.4" y1="1081.16" x2="1758.4" y2="1092.54" stroke-width="1.75"/>
<line x1="1758.4" y1="1081.16" x2="1767.4" y2="1081.16" stroke-width="1.8"/>
<line x1="1758.4" y1="1092.54" x2="1763.7" y2="1092.54" stroke-width="1.8"/>
<line x1="1750.8" y1="1110" x2="1754.6" y2="1110" stroke-width="1.75"/>
<line x1="1754.6" y1="1103.91" x2="1754.6" y2="1115.29" stroke-width="1.75"/>
<line x1="1754.6" y1="1103.91" x2="1757.6" y2="1103.91" stroke-width="1.8"/>
<line x1="1754.6" y1="1115.29" x2="1790" y2="1115.29" stroke-width="1.8"/>
<line x1="1725.2" y1="1144.6" x2="1756.6" y2="1144.6" stroke-width="1.75"/>
<line x1="1756.6" y1="1126.66" x2="1756.6" y2="1162" stroke-width="1.75"/>
<line x1="1756.6" y1="1126.66" x2="1761.8" y2="1126.66" stroke-width="1.8"/>
<line x1="1756.6" y1="1162" x2="1767.4" y2="1162" stroke-width="1.75"/>
<line x1="1767.4" y1="1144.2" x2="1767.4" y2="1179.3" stroke-width="1.75"/>
<line x1="1767.4" y1="1144.2" x2="1773.5" y2="1144.2" stroke-width="1.75"/>
<line x1="1773.5" y1="1138.04" x2="1773.5" y2="1149.41" stroke-width="1.75"/>
<line x1="1773.5" y1="1138.04" x2="1799.8" y2="1138.04" stroke-width="1.8"/>
<line x1="1773.5" y1="1149.41" x2="1805.9" y2="1149.41" stroke-width="1.8"/>
<line x1="1767.4" y1="1179.3" x2="1782" y2="1179.3" stroke-width="1.75"/>
<line x1="1782" y1="1166.5" x2="1782" y2="1192.1" stroke-width="1.75"/>
<line x1="1782" y1="1166.5" x2="1790.3" y2="1166.5" stroke-width="1.75"/>
<line x1="1790.3" y1="1160.79" x2="1790.3" y2="1172.16" stroke-width="1.75"/>
<line x1="1790.3" y1="1160.79" x2="1797.9" y2="1160.79" stroke-width="1.8"/>
<line x1="1790.3" y1="1172.16" x2="1797.6" y2="1172.16" stroke-width="1.8"/>
<line x1="1782" y1="1192.1" x2="1802.9" y2="1192.1" stroke-width="1.75"/>
<line x1="1802.9" y1="1183.54" x2="1802.9" y2="1200.7" stroke-width="1.75"/>
<line x1="1802.9" y1="1183.54" x2="1891.8" y2="1183.54" stroke-width="1.8"/>
<line x1="1802.9" y1="1200.7" x2="1808.9" y2="1200.7" stroke-width="1.75"/>
<line x1="1808.9" y1="1194.91" x2="1808.9" y2="1206.29" stroke-width="1.75"/>
<line x1="1808.9" y1="1194.91" x2="1817.2" y2="1194.91" stroke-width="1.8"/>
<line x1="1808.9" y1="1206.29" x2="1823.7" y2="1206.29" stroke-width="1.8"/>
</g>
<g fill="#175480" stroke="#8d9ef0" stroke-width="0.8" stroke-opacity="0.85">
<circle cx="1235.3" cy="493.4" r="5.5"/>
<circle cx="1343.3" cy="493.4" r="5.5"/>
<circle cx="1397" cy="438.5" r="5.4"/>
<circle cx="1435.2" cy="548" r="5.4"/>
<circle cx="1483" cy="464.2" r="3.3"/>
<circle cx="1504.5" cy="472.4" r="5.4"/>
<circle cx="1493.5" cy="632.2" r="5.4"/>
<circle cx="1520.5" cy="510.2" r="2.3"/>
<circle cx="1578.7" cy="506" r="5.4"/>
<circle cx="1603.7" cy="554.7" r="5.4"/>
<circle cx="1649.1" cy="532.4" r="5.4"/>
<circle cx="1664.7" cy="541.2" r="5.4"/>
<circle cx="1652" cy="576.3" r="5.4"/>
<circle cx="1672.7" cy="563.4" r="5.4"/>
<circle cx="1676" cy="589" r="5.4"/>
<circle cx="1688.7" cy="597.7" r="4"/>
<circle cx="1513.9" cy="754.2" r="2.5"/>
<circle cx="1524.2" cy="641.3" r="5.4"/>
<circle cx="1530.6" cy="623.9" r="5.4"/>
<circle cx="1531.3" cy="659.4" r="5.4"/>
<circle cx="1546.1" cy="670.4" r="5.4"/>
<circle cx="1554.8" cy="688.7" r="2"/>
<circle cx="1528" cy="866.6" r="2.3"/>
<circle cx="1540.3" cy="725.4" r="5.4"/>
<circle cx="1549" cy="711.6" r="5"/>
<circle cx="1554.5" cy="738.6" r="5.4"/>
<circle cx="1561.9" cy="757" r="3"/>
<circle cx="1532.9" cy="758.6" r="4"/>
<circle cx="1545.9" cy="791.7" r="5.4"/>
<circle cx="1559.7" cy="791.4" r="4.5"/>
<circle cx="1559.4" cy="809.9" r="4.3"/>
<circle cx="1563.4" cy="836.8" r="5"/>
<circle cx="1554.1" cy="975.1" r="3"/>
<circle cx="1587.7" cy="905" r="4.5"/>
<circle cx="1584.3" cy="916.3" r="5.4"/>
<circle cx="1590" cy="966.1" r="5.5"/>
<circle cx="1603.8" cy="976.2" r="5.5"/>
<circle cx="1610.6" cy="984.6" r="4"/>
<circle cx="1592.7" cy="1014.6" r="4.5"/>
<circle cx="1638" cy="1042.1" r="4.5"/>
<circle cx="1661.1" cy="1059.7" r="3.3"/>
<circle cx="1680" cy="1036" r="5.4"/>
<circle cx="1732.7" cy="1084" r="5.4"/>
<circle cx="1754.1" cy="1087" r="5"/>
<circle cx="1741" cy="1144.6" r="4.5"/>
</g>
<text transform="translate(1111.5,419) scale(1.1,1)" x="0" y="0" font-size="37.5" font-weight="bold" fill="#000" stroke="#000" stroke-width="1.5" stroke-linejoin="round">d</text>
<text x="1111.8" y="443" font-size="19.3" textLength="139" lengthAdjust="spacingAndGlyphs">Tree scale: 0.01</text>
<line x1="1264.4" y1="437.2" x2="1368.5" y2="437.2" stroke="#000" stroke-width="4"/>
<line x1="1316.3" y1="437.2" x2="1316.3" y2="443.5" stroke="#000" stroke-width="4"/>
<rect x="1192.5" y="535.5" width="23.5" height="23.5" fill="#bebebe" stroke="#555" stroke-width="1"/>
<text x="1225.1" y="553.46" font-size="19.5" textLength="109.3" lengthAdjust="spacingAndGlyphs">Haplotype D</text>
<rect x="1192.5" y="570.5" width="23.5" height="23.5" fill="#cfe2f3" stroke="#555" stroke-width="1"/>
<text x="1225.1" y="588.46" font-size="19.5" textLength="117" lengthAdjust="spacingAndGlyphs">NA5 branch 1</text>
<rect x="1192.5" y="605.5" width="23.5" height="23.5" fill="#6fa8dc" stroke="#555" stroke-width="1"/>
<text x="1225.1" y="623.46" font-size="19.5" textLength="119" lengthAdjust="spacingAndGlyphs">NA5 branch 2</text>
</svg>
</body></html>
